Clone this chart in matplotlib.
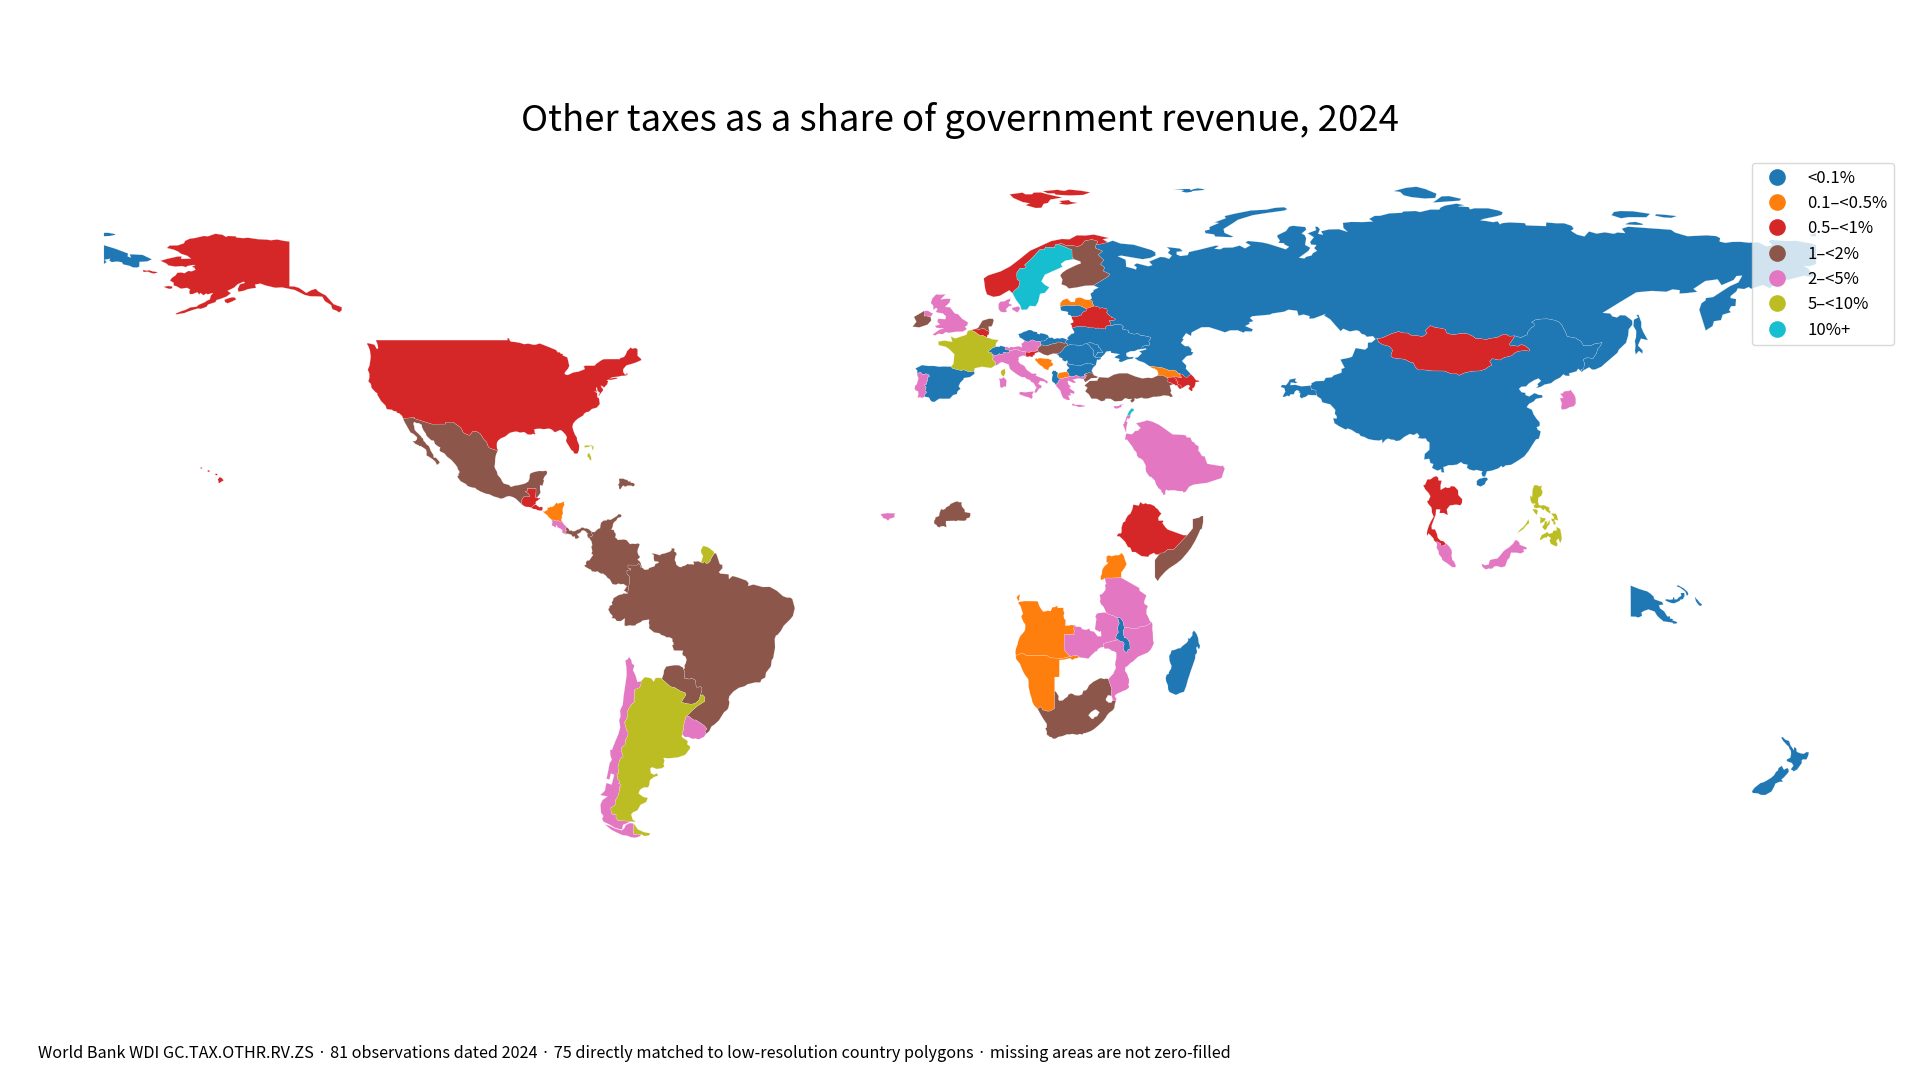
import numpy as np
import matplotlib
matplotlib.use("Agg")
import matplotlib.pyplot as plt
from matplotlib.lines import Line2D

plt.rcParams['font.family'] = ['Noto Sans CJK KR', 'DejaVu Sans']

TITLE = "Other taxes as a share of government revenue, 2024"
FOOTER = ("World Bank WDI GC.TAX.OTHR.RV.ZS · 81 observations dated 2024 · 75 directly matched "
          "to low-resolution country polygons · missing areas are not zero-filled")

BIN_LABELS = ["<0.1%", "0.1–<0.5%", "0.5–<1%", "1–<2%", "2–<5%", "5–<10%", "10%+"]
BIN_COLORS = ["#1f77b4", "#ff7f0e", "#d62728", "#8c564b", "#e377c2", "#bcbd22", "#17becf"]

# country outlines, lon,lat pairs
RUSSIA = [31.1,69.56, 32.13,69.91, 33.78,69.3, 36.51,69.06, 40.29,67.93, 41.06,67.46, 41.13,66.79, 40.02,66.27, 38.38,66.0, 33.92,66.76, 33.18,66.63, 34.81,65.9, 34.88,65.44, 34.94,64.41, 36.23,64.11, 37.01,63.85, 37.14,64.33, 36.54,64.76, 37.18,65.14, 39.59,64.52, 40.44,64.76, 39.76,65.5, 42.09,66.48, 43.02,66.42, 43.95,66.07, 44.53,66.76, 43.7,67.35, 44.19,67.95, 43.45,68.57, 46.25,68.25, 46.82,67.69, 45.56,67.57, 45.56,67.01, 46.35,66.67, 47.89,66.88, 48.14,67.52, 50.23,67.99, 53.72,68.86, 54.47,68.81, 53.49,68.2, 54.73,68.1, 55.44,68.44, 57.32,68.47, 58.8,68.88, 59.94,68.28, 61.08,68.94, 60.03,69.52, 60.55,69.85, 63.5,69.55, 64.89,69.23, 68.51,68.09, 69.18,68.62, 68.16,69.14, 68.14,69.36, 66.93,69.45, 67.26,69.93, 66.72,70.71, 66.69,71.03, 68.54,71.93, 69.2,72.84, 69.94,73.04, 72.59,72.78, 72.8,72.22, 71.85,71.41, 72.47,71.09, 72.79,70.39, 72.56,69.02, 73.67,68.41, 73.24,67.74, 71.28,66.32, 72.42,66.17, 72.82,66.53, 73.92,66.79, 74.19,67.28, 75.05,67.76, 74.47,68.33, 74.94,68.99, 73.84,69.07, 73.6,69.63, 74.4,70.63, 73.1,71.45, 74.89,72.12, 74.66,72.83, 75.16,72.85, 75.68,72.3, 75.29,71.34, 76.36,71.15, 75.9,71.87, 77.58,72.27, 79.65,72.32, 81.5,71.75, 80.61,72.58, 80.51,73.65, 82.25,73.85, 84.66,73.81, 86.82,73.94, 86.01,74.46, 87.17,75.12, 88.32,75.14, 90.26,75.64, 92.9,75.77, 93.23,76.05, 95.86,76.14, 96.68,75.92, 98.92,76.45, 100.76,76.43, 101.04,76.86, 101.99,77.29, 104.35,77.7, 106.07,77.37, 104.7,77.13, 106.97,76.97, 107.24,76.48, 108.15,76.72, 111.08,76.71, 113.33,76.22, 114.13,75.85, 113.89,75.33, 112.78,75.03, 110.15,74.48, 109.4,74.18, 110.64,74.04, 112.12,73.79, 113.02,73.98, 113.53,73.34, 113.97,73.59, 115.57,73.75, 118.78,73.59, 119.02,73.12, 123.2,72.97, 123.26,73.74, 125.38,73.56, 126.98,73.57, 128.59,73.04, 129.05,72.4, 128.46,71.98, 129.72,71.19, 131.29,70.79, 132.25,71.84, 133.86,71.39, 135.56,71.66, 137.5,71.35, 138.23,71.63, 139.87,71.49, 139.15,72.42, 140.47,72.85, 149.5,72.2, 150.35,71.61, 152.97,70.84, 157.01,71.03, 158.998,70.87, 159.83,70.45, 159.71,69.72, 160.94,69.44, 162.28,69.64, 164.05,69.67, 165.94,69.47, 167.84,69.58, 169.58,68.69, 170.82,69.01, 170.01,69.65, 170.45,70.1, 173.64,69.82, 175.72,69.88, 178.6,69.4, 180,68.96, 180,64.98, 178.71,64.53, 177.41,64.61, 178.31,64.08, 178.91,63.25, 179.37,62.98, 179.49,62.57, 179.23,62.3, 177.36,62.52, 174.57,61.77, 173.68,61.65, 172.15,60.95, 170.7,60.34, 170.33,59.88, 168.9,60.57, 166.3,59.79, 165.84,60.16, 164.88,59.73, 163.54,59.87, 163.22,59.21, 162.02,58.24, 162.05,57.84, 163.19,57.62, 163.06,56.16, 162.13,56.12, 161.7,55.29, 162.12,54.86, 160.37,54.34, 160.02,53.2, 158.53,52.96, 158.23,51.94, 156.79,51.01, 155.43,55.38, 155.91,56.77, 156.76,57.36, 156.81,57.83, 158.36,58.06, 161.87,60.34, 163.67,61.14, 164.47,62.55, 163.26,62.47, 162.66,61.64, 160.12,60.54, 159.3,61.77, 156.72,61.43, 154.22,59.76, 155.04,59.14, 152.81,58.88, 151.27,58.78, 151.34,59.5, 149.78,59.66, 148.54,59.16, 145.49,59.34, 142.2,59.04, 138.96,57.09, 135.13,54.73, 136.7,54.6, 137.19,53.98, 138.16,53.76, 138.8,54.25, 139.9,54.19, 141.35,53.09, 141.38,52.24, 140.6,51.24, 140.51,50.05, 140.06,48.45, 138.55,46.999, 138.22,46.31, 136.86,45.14, 135.52,43.99, 134.87,43.4, 133.54,42.81, 132.91,42.8, 132.28,43.28, 130.94,42.55, 130.78,42.22, 130.64,42.39, 130.63,42.9, 131.14,42.93, 131.29,44.11, 131.03,44.97, 131.88,45.32, 133.1,45.14, 133.77,46.12, 134.11,47.21, 134.5,47.58, 135.03,48.48, 133.37,48.18, 132.51,47.79, 131.1,47.79, 130.58,48.73, 129.4,49.44, 127.66,49.76, 127.29,50.74, 126.94,51.35, 126.56,52.12, 125.95,52.79, 125.07,53.16, 123.57,53.46, 122.25,53.43, 121.0,53.25, 120.18,52.75, 120.73,52.52, 120.73,51.96, 120.18,51.64, 119.28,50.58, 119.29,50.14, 117.88,49.51, 116.68,49.89, 115.49,49.81, 114.96,50.14, 114.36,50.25, 112.9,49.54, 111.58,49.38, 110.66,49.13, 109.4,49.29, 108.48,49.28, 107.87,49.79, 106.89,50.27, 105.89,50.41, 104.62,50.28, 103.68,50.09, 102.26,50.51, 102.06,51.26, 100.89,51.52, 99.98,51.63, 98.86,52.05, 97.83,51.01, 98.23,50.42, 97.26,49.73, 95.81,49.98, 94.82,50.01, 94.15,50.48, 93.1,50.5, 92.23,50.8, 90.71,50.33, 88.81,49.47, 87.75,49.3, 87.36,49.21, 86.83,49.83, 85.54,49.69, 85.12,50.12, 84.42,50.31, 83.93,50.89, 83.38,51.07, 81.95,50.81, 80.57,51.39, 80.04,50.86, 77.8,53.4, 76.53,54.18, 76.89,54.49, 74.38,53.55, 73.43,53.49, 73.51,54.04, 72.22,54.38, 71.18,54.13, 70.87,55.17, 69.07,55.39, 68.17,54.97, 65.67,54.6, 65.18,54.35, 61.44,54.01, 60.98,53.66, 61.7,52.98, 60.74,52.72, 60.93,52.45, 59.97,51.96, 61.59,51.27, 61.34,50.8, 59.93,50.84, 59.64,50.55, 58.36,51.06, 56.78,51.04, 55.72,50.62, 54.53,51.03, 52.33,51.72, 50.77,51.69, 48.7,50.61, 48.58,49.87, 47.55,50.45, 46.75,49.36, 47.04,49.15, 46.47,48.39, 47.32,47.72, 48.06,47.74, 48.69,47.08, 48.59,46.56, 49.1,46.4, 48.65,45.81, 47.68,45.64, 46.68,44.61, 47.59,43.66, 47.49,42.99, 48.58,41.81, 47.99,41.41, 47.82,41.15, 47.37,41.22, 46.69,41.83, 46.40,41.86, 45.78,42.09, 45.47,42.5, 44.54,42.71, 43.93,42.55, 43.76,42.74, 42.39,43.22, 40.92,43.38, 40.08,43.55, 39.96,43.43, 38.68,44.28, 37.54,44.66, 36.68,45.24, 37.4,45.4, 38.23,46.24, 37.67,46.64, 39.15,47.04, 39.12,47.26, 38.22,47.1, 38.26,47.55, 38.77,47.83, 39.74,47.9, 39.9,48.23, 39.67,48.78, 40.08,49.31, 40.07,49.6, 38.59,49.93, 38.01,49.92, 37.39,50.38, 36.63,50.23, 35.36,50.58, 35.38,51.04, 34.22,51.26, 34.14,51.57, 34.39,51.77, 33.75,52.34, 32.72,52.24, 32.41,52.29, 32.16,52.06, 31.79,52.1, 31.54,52.74, 31.31,53.07, 31.5,53.17, 32.3,53.13, 32.69,53.35, 32.41,53.62, 31.73,53.79, 31.79,53.97, 31.38,54.16, 30.76,54.81, 30.97,55.08, 30.87,55.55, 29.9,55.79, 29.37,55.67, 29.23,55.92, 28.18,56.17, 27.86,56.76, 27.77,57.24, 27.29,57.47, 27.72,57.79, 27.42,58.72, 28.13,59.3, 27.98,59.48, 29.12,60.03, 28.07,60.5, 30.21,61.78, 31.14,62.36, 31.52,62.87, 30.04,63.55, 30.44,64.2, 29.54,64.95, 30.22,65.81, 29.05,66.94, 29.98,67.7, 28.45,68.36, 28.59,69.06, 29.4,69.16]
RUSSIA_CHUKOTKA = [-180,68.96, -177.55,68.2, -174.93,67.21, -175.01,66.58, -174.34,66.34, -174.57,67.06, -171.86,66.91, -169.9,65.98, -170.89,65.54, -172.53,65.44, -172.56,64.46, -172.96,64.25, -173.89,64.28, -174.65,64.63, -175.98,64.92, -176.21,65.36, -177.22,65.52, -178.36,65.39, -178.9,65.74, -178.69,66.11, -179.88,65.87, -179.43,65.4, -180,64.98]
RUSSIA_WRANGEL_W = [-178.69,70.89, -180,70.83, -180,71.52, -179.87,71.56, -179.02,71.56, -177.58,71.27, -177.66,71.13]
RUSSIA_WRANGEL_E = [180,71.52, 180,70.83, 178.9,70.78, 178.73,71.1]
SAKHALIN = [143.65,50.75, 144.65,48.98, 143.17,49.31, 142.56,47.86, 143.53,46.84, 143.51,46.14, 142.75,46.74, 142.09,45.97, 141.91,46.81, 142.02,47.78, 141.9,48.86, 142.14,49.62, 142.18,50.95, 141.59,51.94, 141.68,53.3, 142.61,53.76, 142.21,54.23, 142.65,54.37, 143.26,52.74, 143.24,51.76]
NOVAYA_ZEMLYA = [68.85,76.54, 68.18,76.23, 64.64,75.74, 61.58,75.26, 58.48,74.31, 56.99,73.33, 55.42,72.37, 55.62,71.54, 57.54,70.72, 56.94,70.63, 53.68,70.76, 53.41,71.21, 51.6,71.47, 51.46,72.01, 52.48,72.23, 52.44,72.77, 54.43,73.63, 53.51,73.75, 55.9,74.63, 55.63,75.08, 57.87,75.61, 61.17,76.25, 64.5,76.44, 66.21,76.81, 68.16,76.94]
SEVERNAYA_A = [105.07,78.31, 99.44,77.92, 101.26,79.23, 102.84,79.28, 105.37,78.71]
SEVERNAYA_B = [99.94,78.88, 97.76,78.76, 94.97,79.04, 93.31,79.43, 92.55,80.14, 91.18,80.34, 93.78,81.02, 95.94,81.25, 97.88,80.75, 100.19,79.78]
FRANZ_JOSEF = [51.14,80.55, 49.79,80.42, 48.89,80.34, 48.75,80.18, 47.59,80.01, 46.5,80.25, 47.07,80.56, 44.85,80.59, 46.8,80.77, 48.32,80.78, 48.52,80.51, 49.1,80.75, 50.04,80.92, 51.52,80.7]
NEW_SIBERIA_A = [138.83,76.14, 141.47,76.09, 145.09,75.56, 144.3,74.82, 140.61,74.85, 138.96,74.61, 136.97,75.26, 137.51,75.95]
NEW_SIBERIA_B = [148.22,75.35, 150.73,75.08, 149.58,74.69, 147.98,74.78, 146.12,75.17, 146.36,75.48]
NEW_SIBERIA_C = [139.86,73.37, 140.81,73.77, 142.06,73.86, 143.48,73.47, 143.6,73.21, 142.09,73.21, 140.04,73.32]

CHINA = [127.66,49.76, 129.40,49.44, 130.58,48.73, 131.10,47.79, 132.51,47.79, 133.37,48.18, 135.03,48.48, 134.5,47.58, 134.11,47.21, 133.77,46.12, 133.1,45.14, 131.88,45.32, 131.03,44.97, 131.29,44.11, 131.14,42.93, 130.63,42.9, 130.64,42.4, 129.99,42.99, 129.6,42.42, 128.05,41.99, 128.21,41.47, 127.34,41.5, 126.87,41.82, 126.18,41.11, 125.08,40.57, 124.27,39.93, 122.87,39.64, 122.13,39.17, 121.05,38.9, 121.59,39.36, 121.38,39.75, 122.17,40.42, 121.64,40.95, 120.77,40.59, 119.64,39.9, 119.02,39.25, 118.04,39.2, 117.53,38.74, 118.06,38.06, 118.88,37.9, 118.91,37.45, 119.7,37.16, 120.82,37.87, 121.71,37.48, 122.36,37.45, 122.52,36.93, 121.1,36.65, 120.64,36.11, 119.66,35.61, 119.15,34.91, 120.23,34.36, 120.62,33.38, 121.23,32.46, 121.91,31.69, 121.89,30.95, 121.26,30.68, 121.5,30.14, 122.09,29.83, 121.94,29.02, 121.68,28.23, 121.13,28.14, 120.4,27.05, 119.59,25.74, 118.66,24.55, 117.28,23.62, 115.89,22.78, 114.76,22.67, 114.15,22.22, 113.81,22.55, 113.24,22.05, 111.84,21.55, 110.78,21.4, 110.44,20.34, 109.89,20.28, 109.63,21.01, 109.86,21.4, 108.52,21.72, 108.05,21.55, 107.04,21.81, 106.57,22.22, 106.73,22.79, 105.81,22.98, 105.33,23.35, 104.48,22.82, 103.5,22.7, 102.71,22.71, 102.17,22.46, 101.65,22.32, 101.8,21.17, 101.27,21.2, 101.18,21.44, 101.15,21.85, 100.42,21.56, 99.98,21.74, 99.24,22.12, 99.53,22.95, 98.9,23.14, 98.66,24.06, 97.6,23.9, 97.72,25.08, 98.67,25.92, 98.71,26.74, 98.68,27.51, 98.25,27.75, 97.91,28.34, 97.33,28.26, 96.25,28.41, 96.59,28.83, 96.12,29.45, 95.4,29.03, 94.57,29.28, 93.41,28.64, 92.5,27.9, 91.7,27.77, 91.26,28.04, 90.73,28.06, 90.02,28.3, 89.48,28.04, 88.81,27.3, 88.73,28.09, 88.12,27.88, 86.95,27.97, 85.82,28.2, 85.01,28.64, 84.23,28.84, 83.9,29.32, 83.34,29.46, 82.33,30.12, 81.53,30.42, 81.11,30.18, 79.72,30.88, 78.74,31.52, 78.46,32.62, 79.18,32.48, 79.21,32.99, 78.81,33.51, 78.91,34.32, 77.84,35.49, 76.19,35.9, 75.9,36.67, 75.16,37.13, 74.98,37.42, 74.83,37.99, 74.86,38.38, 74.26,38.61, 73.93,38.51, 73.68,39.43, 73.96,39.66, 73.82,39.89, 74.78,40.37, 76.53,40.43, 76.9,41.07, 78.19,41.19, 78.54,41.58, 80.12,42.12, 80.26,42.35, 80.18,42.92, 80.87,43.18, 79.97,44.92, 81.95,45.32, 82.46,45.54, 83.18,47.33, 85.16,47.0, 85.72,47.45, 85.77,48.46, 86.6,48.55, 87.36,49.21, 87.75,49.3, 88.01,48.6, 88.85,48.07, 90.28,47.69, 90.97,46.89, 90.59,45.72, 90.95,45.29, 92.13,45.12, 93.48,44.98, 94.69,44.35, 95.31,44.24, 95.76,43.32, 96.35,42.73, 97.45,42.75, 99.52,42.52, 101.83,42.51, 103.31,41.91, 104.52,41.91, 104.96,41.6, 106.13,42.13, 107.74,42.48, 109.24,42.52, 110.41,42.87, 111.13,43.41, 111.83,43.74, 111.67,44.07, 111.35,44.46, 111.87,45.1, 112.44,45.01, 113.46,44.81, 114.46,45.34, 115.99,45.73, 116.72,46.39, 117.42,46.67, 118.87,46.81, 119.66,46.69, 119.77,47.05, 118.87,47.75, 118.06,48.07, 117.3,47.7, 116.31,47.85, 115.74,47.73, 115.49,48.14, 116.19,49.13, 116.68,49.89, 117.88,49.51, 119.29,50.14, 119.28,50.58, 120.18,51.64, 120.73,51.96, 120.73,52.52, 120.18,52.75, 121.0,53.25, 122.25,53.43, 123.57,53.46, 125.07,53.16, 125.95,52.79, 126.56,52.12, 126.94,51.35, 127.29,50.74]
HAINAN = [110.34,18.68, 109.48,18.2, 108.66,18.51, 108.63,19.37, 109.12,19.82, 110.21,20.10, 110.79,20.08, 111.01,19.70, 110.57,19.26]
MONGOLIA = [87.75,49.3, 88.81,49.47, 90.71,50.33, 92.23,50.8, 93.1,50.5, 94.15,50.48, 94.82,50.01, 95.81,49.98, 97.26,49.73, 98.23,50.42, 97.83,51.01, 98.86,52.05, 99.98,51.63, 100.89,51.52, 102.07,51.26, 102.26,50.51, 103.68,50.09, 104.62,50.28, 105.89,50.41, 106.89,50.27, 107.87,49.79, 108.48,49.28, 109.4,49.29, 110.66,49.13, 111.58,49.38, 112.9,49.54, 114.36,50.25, 114.96,50.14, 115.49,49.81, 116.68,49.89, 116.19,49.13, 115.49,48.14, 115.74,47.73, 116.31,47.85, 117.3,47.7, 118.06,48.07, 118.87,47.75, 119.77,47.05, 119.66,46.69, 118.87,46.81, 117.42,46.67, 116.72,46.39, 115.99,45.73, 114.46,45.34, 113.46,44.81, 112.44,45.01, 111.87,45.1, 111.35,44.46, 111.67,44.07, 111.83,43.74, 111.13,43.41, 110.41,42.87, 109.24,42.52, 107.74,42.48, 106.13,42.13, 104.96,41.6, 104.52,41.91, 103.31,41.91, 101.83,42.51, 99.52,42.52, 97.45,42.75, 96.35,42.73, 95.76,43.32, 95.31,44.24, 94.69,44.35, 93.48,44.98, 92.13,45.12, 90.95,45.29, 90.59,45.72, 90.97,46.89, 90.28,47.69, 88.85,48.07, 88.01,48.6]
TAJIKISTAN = [67.83,37.14, 68.39,38.16, 68.18,38.9, 67.44,39.14, 67.7,39.58, 68.54,39.53, 69.01,40.09, 69.33,40.73, 70.67,40.96, 70.46,40.5, 70.6,40.22, 71.01,40.24, 70.65,39.94, 69.56,40.1, 69.46,39.53, 70.55,39.6, 71.78,39.28, 73.68,39.43, 73.93,38.51, 74.26,38.61, 74.86,38.38, 74.83,37.99, 74.98,37.42, 73.95,37.42, 73.26,37.5, 72.64,37.05, 72.19,36.95, 71.84,36.74, 71.45,37.07, 71.54,37.91, 71.24,37.95, 71.35,38.26, 70.81,38.49, 70.38,38.14, 70.27,37.74, 70.12,37.59, 69.52,37.61, 69.2,37.15, 68.86,37.34, 68.14,37.02]
SOUTH_KOREA = [128.35,38.61, 129.21,37.43, 129.46,36.78, 129.47,35.63, 129.09,35.08, 128.19,34.89, 127.39,34.48, 126.49,34.39, 126.37,34.93, 126.56,35.68, 126.12,36.73, 126.86,36.89, 126.17,37.75, 126.68,37.8, 127.07,38.26, 127.78,38.3, 128.21,38.37]
THAILAND = [102.58,12.19, 101.69,12.65, 100.83,12.63, 100.98,13.41, 100.1,13.41, 100.02,12.31, 99.48,10.85, 99.15,9.96, 99.22,9.24, 99.87,9.21, 100.28,8.3, 100.46,7.43, 101.02,6.86, 101.62,6.74, 102.14,6.22, 101.81,5.81, 101.15,5.69, 101.08,6.2, 100.26,6.64, 100.09,6.46, 99.69,6.85, 99.52,7.34, 98.99,7.91, 98.5,8.38, 98.34,7.79, 98.15,8.35, 98.26,8.97, 98.55,9.93, 99.04,10.96, 99.59,11.89, 99.2,12.8, 99.21,13.27, 99.1,13.83, 98.43,14.62, 98.19,15.12, 98.54,15.31, 98.9,16.18, 98.54,16.84, 97.86,17.57, 97.38,18.45, 97.8,18.63, 98.25,19.71, 98.96,19.75, 99.54,20.19, 100.12,20.42, 100.55,20.11, 100.61,19.51, 101.28,19.46, 101.04,18.41, 101.06,17.51, 102.11,18.11, 102.41,17.93, 102.99,17.96, 103.2,18.31, 103.96,18.24, 104.72,17.43, 104.78,16.44, 105.59,15.57, 105.54,14.72, 105.22,14.27, 104.28,14.42, 102.99,14.23, 102.35,13.39]
MALAYSIA_WEST = [101.08,6.2, 101.15,5.69, 101.81,5.81, 102.14,6.22, 102.37,6.13, 102.96,5.52, 103.38,4.86, 103.44,4.18, 103.33,3.73, 103.43,3.38, 103.5,2.79, 103.85,2.52, 104.25,1.63, 104.23,1.29, 103.52,1.23, 102.57,1.97, 101.39,2.76, 101.27,3.27, 100.7,3.94, 100.56,4.77, 100.2,5.31, 100.31,6.04, 100.09,6.46, 100.26,6.64]
MALAYSIA_EAST = [117.88,4.14, 117.02,4.31, 115.87,4.31, 115.52,3.17, 115.13,2.82, 114.62,1.43, 113.81,1.22, 112.86,1.5, 112.38,1.41, 111.8,0.9, 111.16,0.98, 110.51,0.77, 109.83,1.34, 109.66,2, 110.4,1.66, 111.17,1.85, 111.37,2.7, 111.8,2.89, 113,3.1, 113.71,3.89, 114.2,4.53, 114.6,4.9, 115.45,5.45, 116.22,6.14, 116.73,6.92, 117.13,6.93, 117.64,6.42, 117.69,5.99, 118.35,5.71, 119.18,5.41, 119.11,5.02, 118.44,4.97, 118.62,4.48]
MINDANAO = [126.38,8.41, 126.48,7.75, 126.54,7.19, 126.2,6.27, 125.83,7.29, 125.36,6.79, 125.68,6.05, 125.4,5.58, 124.22,6.16, 123.94,6.89, 124.24,7.36, 123.61,7.83, 123.3,7.42, 122.83,7.46, 122.09,6.9, 121.92,7.19, 122.31,8.03, 122.94,8.32, 123.49,8.69, 123.84,8.24, 124.6,8.51, 124.76,8.96, 125.47,8.99, 125.41,9.76, 126.22,9.29, 126.31,8.78]
SAMAR_LEYTE = [125.5,12.16, 125.78,11.05, 125.01,11.31, 125.03,10.98, 125.28,10.36, 124.8,10.13, 124.76,10.84, 124.46,10.89, 124.3,11.5, 124.89,11.42, 124.88,11.79, 124.27,12.56, 125.23,12.54]
NEGROS = [123.98,10.28, 123.62,9.95, 123.31,9.32, 122.995,9.02, 122.38,9.71, 122.59,9.98, 122.84,10.26, 122.95,10.88, 123.5,10.94, 123.34,10.27, 124.08,11.23]
PANAY = [121.88,11.89, 122.48,11.58, 123.12,11.58, 123.1,11.17, 122.64,10.74, 122,10.44, 121.97,10.91, 122.04,11.42]
MINDORO = [120.32,13.47, 121.18,13.43, 121.53,13.07, 121.26,12.21, 120.83,12.7]
PALAWAN = [119.51,11.37, 119.69,10.55, 119.03,10, 118.5,9.32, 117.17,8.37, 117.66,9.07, 118.39,9.68, 118.99,10.38]
LUZON = [121.32,18.5, 121.94,18.22, 122.25,18.48, 122.34,18.22, 122.17,17.81, 122.52,17.09, 122.25,16.26, 121.66,15.93, 121.51,15.12, 121.73,14.33, 122.26,14.22, 122.7,14.34, 123.95,13.78, 123.86,13.24, 124.18,13, 124.08,12.54, 123.3,13.03, 122.93,13.55, 122.67,13.19, 122.03,13.78, 121.13,13.64, 120.63,13.86, 120.68,14.27, 120.99,14.53, 120.69,14.76, 120.56,14.4, 120.07,14.97, 119.92,15.41, 119.88,16.36, 120.29,16.03, 120.39,17.6, 120.72,18.51]
PNG_MAIN = [141,-2.6, 142.74,-3.29, 144.58,-3.86, 145.27,-4.37, 145.83,-4.88, 145.98,-5.47, 147.65,-6.08, 147.89,-6.61, 146.97,-6.72, 147.19,-7.39, 148.08,-8.04, 148.73,-9.1, 149.31,-9.07, 149.27,-9.51, 150.04,-9.68, 149.74,-9.87, 150.8,-10.29, 150.69,-10.58, 150.03,-10.65, 149.78,-10.39, 147.91,-10.13, 147.14,-9.49, 146.57,-8.94, 146.05,-8.07, 144.74,-7.63, 143.9,-7.92, 143.29,-8.25, 143.41,-8.98, 142.63,-9.33, 142.07,-9.16, 141.03,-9.12, 141.02,-5.86]
PNG_BRITAIN = [152.24,-4.15, 152.34,-4.31, 152.32,-4.87, 151.98,-5.48, 151.46,-5.56, 151.3,-5.84, 150.75,-6.08, 150.24,-6.32, 149.71,-6.32, 148.89,-6.03, 148.32,-5.75, 148.4,-5.44, 149.3,-5.58, 149.85,-5.51, 149.99,-5.03, 150.14,-5, 150.24,-5.53, 150.81,-5.46, 151.09,-5.11, 151.65,-4.76, 151.54,-4.17, 152.14,-4.15]
PNG_IRELAND = [150.94,-2.5, 150.66,-2.74, 151.38,-3.04, 152.41,-3.79, 152.64,-4.18, 152.83,-4.77, 153.14,-4.5, 153.02,-3.98, 152.24,-3.24]
PNG_BOUGAINVILLE = [155.88,-6.82, 155.6,-6.92, 155.17,-6.54, 154.73,-5.9, 154.51,-5.14, 154.65,-5.04, 154.76,-5.34, 155.06,-5.57, 155.55,-6.2, 156.02,-6.54]
NZ_SOUTH = [173.02,-40.92, 173.25,-41.33, 173.96,-40.93, 174.25,-41.35, 174.25,-41.77, 173.88,-42.23, 173.22,-42.97, 172.71,-43.37, 173.08,-43.85, 172.31,-43.87, 171.45,-44.24, 171.19,-44.9, 170.62,-45.91, 169.83,-46.36, 169.33,-46.64, 168.41,-46.62, 167.76,-46.29, 166.68,-46.22, 166.51,-45.85, 167.05,-45.11, 168.3,-44.12, 168.95,-43.94, 169.67,-43.56, 170.52,-43.03, 171.13,-42.51, 171.57,-41.77, 171.95,-41.51, 172.1,-40.96, 172.8,-40.49]
NZ_NORTH = [174.61,-36.16, 175.34,-37.21, 175.36,-36.53, 175.81,-36.8, 175.96,-37.56, 176.76,-37.88, 177.44,-37.96, 178.01,-37.58, 178.52,-37.69, 178.27,-38.58, 177.97,-39.17, 177.21,-39.15, 176.94,-39.45, 177.03,-39.88, 176.89,-40.07, 176.51,-40.6, 176.01,-41.29, 175.24,-41.69, 175.07,-41.43, 174.65,-41.28, 175.23,-40.46, 174.9,-39.91, 173.82,-39.51, 173.85,-39.15, 174.57,-38.8, 174.74,-38.03, 174.7,-37.38, 174.29,-36.71, 174.32,-36.53, 173.84,-36.12, 173.05,-35.24, 172.64,-34.53, 173.01,-34.45, 173.55,-35.01, 174.33,-35.27]

USA_MAIN = [-94.82,49.39, -94.64,48.84, -94.33,48.67, -93.63,48.61, -92.61,48.45, -91.64,48.14, -90.83,48.27, -89.6,48.01, -89.27,48.02, -88.38,48.3, -87.44,47.94, -86.46,47.55, -84.88,46.9, -84.78,46.64, -84.54,46.54, -84.6,46.44, -84.34,46.41, -84.14,46.51, -84.09,46.28, -83.89,46.12, -83.62,46.12, -83.47,45.99, -83.59,45.82, -82.55,45.35, -82.34,44.44, -82.14,43.57, -82.43,42.98, -82.9,42.43, -83.12,42.08, -83.14,41.98, -83.03,41.83, -82.69,41.68, -82.44,41.68, -81.28,42.21, -80.25,42.37, -78.94,42.86, -78.92,42.97, -79.01,43.27, -79.17,43.47, -78.72,43.63, -77.74,43.63, -76.82,43.63, -76.5,44.02, -76.38,44.1, -75.32,44.82, -74.87,45.0, -73.35,45.01, -71.51,45.01, -71.41,45.26, -71.08,45.31, -70.66,45.46, -70.31,45.92, -70.0,46.69, -69.24,47.45, -68.91,47.19, -68.23,47.35, -67.79,47.07, -67.79,45.7, -67.14,45.14, -66.96,44.81, -68.03,44.33, -69.06,43.98, -70.12,43.68, -70.65,43.09, -70.81,42.87, -70.83,42.34, -70.5,41.81, -70.08,41.78, -70.19,42.15, -69.88,41.92, -69.97,41.64, -70.64,41.48, -71.12,41.49, -71.86,41.32, -72.3,41.27, -72.88,41.22, -73.71,40.93, -72.24,41.12, -71.95,40.93, -73.35,40.63, -73.98,40.63, -73.95,40.75, -74.26,40.47, -73.96,40.43, -74.18,39.71, -74.91,38.94, -74.98,39.2, -75.2,39.25, -75.53,39.5, -75.32,38.96, -75.07,38.78, -75.06,38.4, -75.38,38.02, -75.94,37.22, -76.03,37.26, -75.72,37.94, -76.23,38.32, -76.35,39.15, -76.54,38.72, -76.33,38.08, -76.96,38.23, -76.3,37.92, -76.26,36.97, -75.97,36.9, -75.87,36.55, -75.73,35.55, -76.36,34.81, -77.4,34.51, -78.05,33.93, -78.55,33.86, -79.06,33.49, -79.2,33.16, -80.3,32.51, -80.86,32.03, -81.34,31.44, -81.49,30.73, -81.31,30.04, -80.98,29.18, -80.54,28.47, -80.53,28.04, -80.06,26.88, -80.09,26.21, -80.13,25.82, -80.38,25.21, -80.68,25.08, -81.17,25.2, -81.33,25.64, -81.71,25.87, -82.24,26.73, -82.71,27.5, -82.86,27.89, -82.65,28.55, -82.93,29.1, -83.71,29.94, -84.1,30.09, -85.11,29.64, -85.29,29.69, -85.77,30.15, -86.4,30.4, -87.53,30.27, -88.42,30.38, -89.18,30.32, -89.59,30.16, -89.41,29.89, -89.43,29.49, -89.22,29.29, -89.41,29.16, -89.78,29.31, -90.15,29.12, -90.88,29.15, -91.63,29.68, -92.5,29.55, -93.23,29.78, -93.85,29.71, -94.69,29.48, -95.6,28.74, -96.59,28.31, -97.14,27.83, -97.37,27.38, -97.38,26.69, -97.33,26.21, -97.14,25.87, -97.53,25.84, -98.24,26.06, -99.02,26.37, -99.3,26.84, -99.52,27.54, -100.11,28.11, -100.46,28.7, -100.96,29.38, -101.66,29.78, -102.48,29.76, -103.11,28.97, -103.94,29.27, -104.46,29.57, -104.71,30.12, -105.04,30.64, -105.63,31.08, -106.14,31.4, -106.51,31.75, -108.24,31.75, -108.24,31.34, -109.04,31.34, -111.02,31.33, -113.3,32.04, -114.82,32.53, -114.72,32.72, -115.99,32.61, -117.13,32.54, -117.3,33.05, -117.94,33.62, -118.41,33.74, -118.52,34.03, -119.08,34.08, -119.44,34.35, -120.37,34.45, -120.62,34.61, -120.74,35.16, -121.71,36.16, -122.55,37.55, -122.51,37.78, -122.95,38.11, -123.73,38.95, -123.87,39.77, -124.4,40.31, -124.18,41.14, -124.21,42.0, -124.53,42.77, -124.14,43.71, -124.02,44.62, -123.9,45.52, -124.08,46.86, -124.4,47.72, -124.69,48.18, -124.57,48.38, -123.12,48.04, -122.59,47.1, -122.34,47.36, -122.5,48.18, -122.84,49.0, -120,49, -117.03,49, -116.05,49, -113,49, -110.05,49, -107.05,49, -104.05,49, -100.65,49, -97.23,49, -95.16,49, -95.16,49.38]
ALASKA = [-155.07,71.15, -154.34,70.7, -153.9,70.89, -152.21,70.83, -152.27,70.6, -150.74,70.43, -149.72,70.53, -147.61,70.21, -145.69,70.12, -144.92,69.99, -143.59,70.15, -142.07,69.85, -140.99,69.71, -140.99,66, -140.99,60.31, -140.01,60.28, -139.04,60, -138.34,59.56, -137.45,58.91, -136.48,59.46, -135.48,59.79, -134.95,59.27, -134.27,58.86, -133.36,58.41, -132.73,57.69, -131.71,56.55, -130.0,55.92, -129.98,55.28, -130.54,54.8, -131.09,55.18, -131.97,55.5, -132.25,56.37, -133.54,57.18, -134.08,58.12, -135.04,58.19, -136.63,58.21, -137.8,58.5, -139.87,59.54, -142.57,60.08, -143.96,60, -145.93,60.46, -147.11,60.88, -148.22,60.67, -148.02,59.98, -148.57,59.91, -149.73,59.71, -150.61,59.37, -151.72,59.16, -151.86,59.74, -151.41,60.73, -150.35,61.03, -150.62,61.28, -151.9,60.73, -152.58,60.06, -154.02,59.35, -153.29,58.86, -154.23,58.15, -155.31,57.73, -156.31,57.42, -156.56,56.98, -158.12,56.46, -158.43,55.99, -159.6,55.57, -160.29,55.64, -161.22,55.36, -162.24,55.02, -163.07,54.69, -164.79,54.4, -164.94,54.57, -163.85,55.04, -162.87,55.35, -161.8,55.89, -160.56,56.01, -160.07,56.42, -158.68,57.02, -158.46,57.22, -157.72,57.57, -157.55,58.33, -157.04,58.92, -158.19,58.62, -158.52,58.79, -159.06,58.42, -159.71,58.93, -159.98,58.57, -160.36,59.07, -161.36,58.67, -161.97,58.67, -162.05,59.27, -161.87,59.63, -162.52,59.99, -163.82,59.8, -164.66,60.27, -165.35,60.51, -165.35,61.07, -166.12,61.5, -165.73,62.07, -164.92,62.63, -164.56,63.15, -163.75,63.22, -163.07,63.06, -162.26,63.54, -161.53,63.46, -160.77,63.77, -160.96,64.22, -161.52,64.4, -160.78,64.79, -161.39,64.78, -162.45,64.56, -162.76,64.34, -163.55,64.56, -164.96,64.45, -166.43,64.69, -166.85,65.09, -168.11,65.67, -166.7,66.09, -164.47,66.58, -163.65,66.58, -163.79,66.08, -161.68,66.12, -162.49,66.74, -163.72,67.12, -164.43,67.62, -165.39,68.04, -166.76,68.36, -166.2,68.88, -164.43,68.92, -163.17,69.37, -162.93,69.86, -161.91,70.33, -160.93,70.45, -159.04,70.89, -158.12,70.82, -156.58,71.36]
ST_LAWRENCE = [-171.73,63.78, -171.11,63.59, -170.49,63.69, -169.68,63.43, -168.69,63.3, -168.77,63.19, -169.53,62.98, -170.29,63.19, -170.67,63.38, -171.55,63.32, -171.79,63.41]
NUNIVAK = [-167.46,60.21, -166.47,60.38, -165.67,60.29, -165.58,59.91, -166.19,59.75, -166.85,59.94]
KODIAK = [-152.57,58, -152.14,57.59, -153.01,57.12, -154.01,56.73, -154.52,56.99, -154.67,57.46, -153.76,57.82, -153.23,57.97]
HAWAII = [-155.54,19.08, -155.69,18.92, -155.94,19.06, -155.91,19.34, -156.07,19.7, -155.84,19.98, -155.65,20.22, -155.2,19.99, -154.81,19.51]
MAUI = [-156.07,20.64, -156.41,20.57, -156.7,20.86, -156.26,20.92]
OAHU = [-157.65,21.32, -158.13,21.31, -158.25,21.54, -158.0,21.7]
KAUAI = [-159.37,21.97, -159.8,22.07, -159.6,22.24, -159.34,22.2]

MEXICO = [-97.14,25.87, -97.53,24.99, -97.7,24.27, -97.78,22.93, -97.87,22.44, -97.7,21.9, -97.39,21.41, -97.19,20.64, -96.53,19.89, -96.29,19.32, -95.9,18.83, -94.84,18.56, -94.43,18.14, -93.55,18.42, -92.79,18.52, -92.04,18.7, -91.41,18.88, -90.77,19.28, -90.53,19.87, -90.45,20.71, -90.28,21, -89.6,21.26, -88.54,21.49, -87.66,21.46, -87.05,21.54, -86.81,21.33, -86.85,20.85, -87.38,20.26, -87.62,19.65, -87.44,19.47, -87.59,19.04, -87.84,18.26, -88.09,18.52, -88.3,18.5, -88.3,17.6, -88.2,16.9, -88.9,15.9, -89.23,15.89, -89.15,17.02, -89.14,17.81, -91,17.82, -91.0,17.25, -91.45,17.25, -91.08,16.92, -90.71,16.69, -90.6,16.47, -90.44,16.41, -90.46,16.07, -91.75,16.07, -92.23,15.25, -92.09,15.06, -92.2,14.83, -92.23,14.54, -93.36,15.62, -93.88,15.94, -94.69,16.2, -95.25,16.13, -96.05,15.75, -96.56,15.65, -97.26,15.92, -98.01,16.11, -98.95,16.57, -99.7,16.71, -100.83,17.17, -101.67,17.65, -101.92,17.92, -102.48,17.98, -103.5,18.29, -103.92,18.75, -104.99,19.32, -105.49,19.95, -105.73,20.43, -105.4,20.53, -105.5,20.82, -105.27,21.08, -105.27,21.42, -105.6,21.87, -105.69,22.27, -106.03,22.77, -106.91,23.77, -107.92,24.55, -108.4,25.17, -109.26,25.58, -109.44,25.82, -109.29,26.44, -109.8,26.68, -110.39,27.16, -110.64,27.86, -111.18,27.94, -111.76,28.47, -112.23,28.95, -112.27,29.27, -112.81,30.02, -113.16,30.79, -113.15,31.17, -113.87,31.57, -114.21,31.52, -114.78,31.8, -114.94,31.39, -114.77,30.91, -114.67,30.16, -114.33,29.75, -113.59,29.06, -113.42,28.83, -113.27,28.75, -113.14,28.41, -112.96,28.43, -112.76,27.78, -112.46,27.53, -112.24,27.17, -111.62,26.66, -111.28,25.73, -110.99,25.29, -110.71,24.83, -110.66,24.3, -110.17,24.27, -109.77,23.81, -109.41,23.36, -109.43,23.19, -109.85,22.82, -110.03,22.82, -110.3,23.43, -110.95,24, -111.67,24.48, -112.18,24.74, -112.15,25.47, -112.3,26.01, -113.46,26.77, -113.6,26.64, -113.85,26.9, -114.47,27.14, -115.06,27.72, -114.98,27.8, -114.57,27.74, -114.2,28.12, -114.16,28.57, -114.93,29.28, -115.52,29.56, -115.89,30.18, -116.26,30.84, -116.72,31.64, -117.13,32.53, -115.99,32.61, -114.72,32.72, -114.82,32.53, -113.3,32.04, -111.02,31.33, -109.04,31.34, -108.24,31.34, -108.24,31.75, -106.51,31.75, -106.14,31.4, -105.63,31.08, -105.04,30.64, -104.71,30.12, -104.46,29.57, -103.94,29.27, -103.11,28.97, -102.48,29.76, -101.66,29.78, -100.96,29.38, -100.46,28.7, -100.11,28.11, -99.52,27.54, -99.3,26.84, -99.02,26.37, -98.24,26.06, -97.53,25.84]
GUATEMALA = [-90.1,13.74, -90.61,13.91, -91.23,13.93, -91.69,14.13, -92.23,14.54, -92.2,14.83, -92.09,15.06, -92.23,15.25, -91.75,16.07, -90.46,16.07, -90.44,16.41, -90.6,16.47, -90.71,16.69, -91.08,16.92, -91.45,17.25, -91.0,17.25, -91.0,17.82, -89.14,17.81, -89.15,17.02, -89.23,15.89, -88.93,15.89, -88.6,15.71, -88.52,15.86, -88.23,15.73, -88.68,15.35, -89.15,15.07, -89.23,14.87, -89.15,14.68, -89.35,14.42, -89.59,14.36, -89.53,14.24, -89.72,14.13, -90.06,13.88]
EL_SALVADOR = [-89.35,14.42, -89.06,14.34, -88.84,14.14, -88.54,13.98, -88.5,13.85, -88.07,13.96, -87.86,13.89, -87.72,13.79, -87.79,13.38, -87.9,13.15, -88.48,13.16, -88.84,13.26, -89.26,13.46, -89.81,13.52, -90.1,13.74, -90.06,13.88, -89.72,14.13, -89.53,14.24, -89.59,14.36]
NICARAGUA = [-85.71,11.09, -86.06,11.4, -86.53,11.81, -86.75,12.14, -87.17,12.46, -87.67,12.91, -87.56,13.06, -87.39,12.91, -87.32,12.98, -86.88,13.25, -86.73,13.26, -86.76,13.75, -86.52,13.78, -86.31,13.77, -86.1,14.04, -85.8,13.84, -85.7,13.96, -85.51,14.08, -85.17,14.35, -85.15,14.56, -85.05,14.55, -84.92,14.79, -84.82,14.82, -84.65,14.67, -84.45,14.62, -84.23,14.75, -83.98,14.75, -83.63,14.88, -83.49,15.02, -83.15,15, -83.23,14.9, -83.28,14.68, -83.18,14.31, -83.41,13.97, -83.52,13.57, -83.55,13.13, -83.5,12.87, -83.47,12.42, -83.63,12.32, -83.72,11.89, -83.65,11.63, -83.86,11.37, -83.81,11.1, -83.66,10.94, -83.9,10.73, -84.19,10.79, -84.36,11, -84.67,11.08, -84.9,10.95, -85.56,11.22]
COSTA_RICA = [-82.55,9.57, -82.93,9.47, -82.93,9.07, -82.72,8.93, -82.87,8.81, -82.83,8.63, -82.91,8.42, -82.97,8.23, -83.51,8.45, -83.71,8.66, -83.6,8.83, -83.63,9.05, -83.91,9.29, -84.3,9.49, -84.65,9.62, -84.71,9.91, -84.98,10.09, -84.91,9.8, -85.11,9.56, -85.34,9.83, -85.66,9.93, -85.8,10.13, -85.79,10.44, -85.66,10.75, -85.94,10.9, -85.71,11.09, -85.56,11.22, -84.9,10.95, -84.67,11.08, -84.36,11, -84.19,10.79, -83.9,10.73, -83.66,10.94, -83.4,10.4]
PANAMA = [-77.35,8.67, -77.47,8.52, -77.24,7.94, -77.43,7.64, -77.75,7.71, -77.88,7.22, -78.21,7.51, -78.43,8.05, -78.18,8.32, -78.44,8.39, -78.62,8.72, -79.12,8.996, -79.56,8.93, -79.76,8.58, -80.16,8.33, -80.38,8.3, -80.48,8.09, -80.0,7.55, -80.28,7.42, -80.42,7.27, -80.89,7.22, -81.06,7.82, -81.19,7.65, -81.52,7.71, -81.72,8.11, -82.13,8.18, -82.39,8.29, -82.82,8.29, -82.85,8.07, -82.97,8.23, -82.91,8.42, -82.83,8.63, -82.87,8.81, -82.72,8.93, -82.93,9.07, -82.93,9.47, -82.55,9.57, -82.19,9.21, -82.21,8.995, -81.81,8.95, -81.71,9.03, -81.44,8.79, -80.95,8.86, -80.52,9.11, -79.91,9.31, -79.57,9.61, -79.02,9.55, -79.06,9.45, -78.5,9.42, -78.06,9.25, -77.73,8.95]
DOMINICAN_REP = [-71.71,18.04, -71.69,18.32, -71.95,18.62, -71.7,18.79, -71.62,19.17, -71.71,19.71, -71.59,19.88, -70.81,19.88, -70.21,19.62, -69.95,19.65, -69.77,19.29, -69.22,19.31, -69.25,19.02, -68.69,18.98, -68.32,18.61, -68.69,18.21, -69.16,18.42, -69.62,18.38, -69.95,18.43, -70.13,18.25, -70.52,18.18, -70.67,18.43, -71,18.28, -71.4,17.6, -71.66,17.76]
BAHAMAS_ANDROS = [-77.53,23.76, -77.78,23.71, -78.03,24.29, -78.41,24.58, -78.19,25.21, -77.89,25.17, -77.54,24.34]
BAHAMAS_GRAND = [-77.82,26.58, -78.91,26.42, -78.98,26.79, -78.51,26.87, -77.85,26.84]
BAHAMAS_ABACO = [-77,26.59, -77.17,25.88, -77.36,26.01, -77.34,26.53, -77.79,26.93, -77.79,27.04]

COLOMBIA = [-75.37,-0.15, -75.8,0.08, -76.29,0.42, -76.58,0.26, -77.42,0.4, -77.67,0.83, -77.86,0.81, -78.86,1.38, -79,1.69, -78.62,1.77, -78.66,2.27, -78.43,2.63, -77.93,2.7, -77.51,3.33, -77.13,3.85, -77.5,4.09, -77.31,4.67, -77.53,5.58, -77.32,5.85, -77.48,6.69, -77.88,7.22, -77.75,7.71, -77.43,7.64, -77.24,7.94, -77.47,8.52, -77.35,8.67, -76.84,8.64, -76.09,9.34, -75.67,9.44, -75.66,9.77, -75.48,10.62, -74.91,11.08, -74.28,11.1, -74.2,11.31, -73.41,11.23, -72.63,11.73, -72.24,11.96, -71.75,12.44, -71.4,12.38, -71.14,12.11, -71.33,11.78, -71.97,11.61, -72.23,11.11, -72.61,10.82, -72.91,10.45, -73.03,9.74, -73.3,9.15, -72.79,9.09, -72.66,8.63, -72.44,8.41, -72.36,8, -72.48,7.63, -72.44,7.42, -72.2,7.34, -71.96,6.99, -70.67,7.09, -70.09,6.96, -69.39,6.1, -68.99,6.21, -68.27,6.15, -67.7,6.27, -67.34,6.1, -67.52,5.56, -67.74,5, -67.82,4.5, -67.62,3.84, -67.34,3.54, -67.3,3.32, -67.81,2.82, -67.45,2.6, -67.18,2.25, -66.88,1.25, -67.07,1.13, -67.26,1.72, -67.54,2.04, -67.87,1.69, -69.82,1.71, -69.8,1.09, -69.22,0.99, -69.25,0.6, -69.45,0.71, -70.02,0.54, -70.02,-0.19, -69.58,-0.55, -69.42,-1.12, -69.44,-1.56, -69.89,-4.3, -70.39,-3.77, -70.69,-3.74, -70.05,-2.73, -70.81,-2.26, -71.41,-2.34, -71.77,-2.17, -72.33,-2.43, -73.07,-2.31, -73.66,-1.26, -74.12,-1, -74.44,-0.53, -75.11,-0.06]
BRAZIL = [-57.63,-30.22, -56.29,-28.85, -55.16,-27.88, -54.49,-27.47, -53.65,-26.92, -53.63,-26.12, -54.13,-25.55, -54.63,-25.74, -54.43,-25.16, -54.29,-24.57, -54.29,-24.02, -54.65,-23.84, -55.03,-24, -55.4,-23.96, -55.52,-23.57, -55.61,-22.66, -55.8,-22.36, -56.47,-22.09, -56.88,-22.28, -57.94,-22.09, -57.87,-20.73, -58.17,-20.18, -57.85,-19.97, -57.95,-19.4, -57.68,-18.96, -57.5,-18.17, -57.73,-17.55, -58.28,-17.27, -58.39,-16.88, -58.24,-16.3, -60.16,-16.26, -60.54,-15.09, -60.25,-15.08, -60.26,-14.65, -60.46,-14.35, -60.5,-13.78, -61.08,-13.48, -61.71,-13.49, -62.13,-13.2, -62.8,-13, -63.2,-12.63, -64.32,-12.46, -65.4,-11.57, -65.32,-10.9, -65.44,-10.51, -65.34,-9.76, -66.65,-9.93, -67.17,-10.31, -68.05,-10.71, -68.27,-11.01, -68.79,-11.04, -69.53,-10.95, -70.09,-11.12, -70.55,-11.01, -70.48,-9.49, -71.3,-10.08, -72.18,-10.05, -72.56,-9.52, -73.23,-9.46, -73.02,-9, -73.57,-8.42, -73.99,-7.52, -73.72,-7.34, -73.72,-6.92, -73.12,-6.63, -73.22,-6.09, -72.96,-5.74, -72.89,-5.27, -71.75,-4.59, -70.93,-4.4, -70.79,-4.25, -69.89,-4.3, -69.44,-1.56, -69.42,-1.12, -69.58,-0.55, -70.02,-0.19, -70.02,0.54, -69.45,0.71, -69.25,0.6, -69.22,0.99, -69.8,1.09, -69.82,1.71, -67.87,1.69, -67.54,2.04, -67.26,1.72, -67.07,1.13, -66.88,1.25, -66.33,0.72, -65.55,0.79, -65.35,1.1, -64.61,1.33, -64.2,1.49, -64.08,1.92, -63.37,2.2, -63.42,2.41, -64.27,2.5, -64.41,3.13, -64.37,3.8, -64.82,4.06, -64.63,4.15, -63.89,4.02, -63.09,3.77, -62.8,4.01, -62.09,4.16, -60.97,4.54, -60.6,4.92, -60.73,5.2, -60.21,5.24, -59.98,5.01, -60.11,4.57, -59.77,4.42, -59.54,3.96, -59.82,3.61, -59.97,2.76, -59.72,2.25, -59.65,1.79, -59.03,1.32, -58.54,1.27, -58.43,1.46, -58.11,1.51, -57.66,1.68, -57.34,1.95, -56.78,1.86, -56.54,1.9, -55.995,1.82, -55.91,2.02, -56.07,2.22, -55.97,2.51, -55.57,2.42, -55.1,2.52, -54.52,2.31, -54.09,2.11, -53.78,2.38, -53.55,2.33, -53.42,2.05, -52.94,2.12, -52.56,2.5, -52.25,3.24, -51.66,4.16, -51.32,4.2, -51.07,3.65, -50.51,1.9, -49.97,1.74, -49.95,1.05, -50.7,0.22, -50.39,-0.08, -48.62,-0.24, -48.58,-1.24, -47.82,-0.58, -46.57,-0.94, -44.91,-1.55, -44.42,-2.14, -44.58,-2.69, -43.42,-2.38, -41.47,-2.91, -39.98,-2.87, -38.5,-3.7, -37.22,-4.82, -36.45,-5.11, -35.6,-5.15, -35.24,-5.46, -34.73,-7.34, -35.13,-8.996, -35.64,-9.65, -37.05,-11.04, -37.68,-12.17, -38.42,-13.04, -38.67,-13.06, -38.95,-13.79, -38.88,-15.67, -39.16,-17.21, -39.27,-17.87, -39.58,-18.26, -39.76,-19.6, -40.77,-20.9, -40.94,-21.94, -41.75,-22.37, -41.99,-22.97, -43.07,-22.97, -44.65,-23.35, -45.35,-23.8, -46.47,-24.09, -47.65,-24.89, -48.5,-25.88, -48.64,-26.62, -48.47,-27.18, -48.66,-28.19, -48.89,-28.67, -49.59,-29.22, -50.7,-30.98, -51.58,-31.78, -52.26,-32.25, -52.71,-33.2, -53.37,-33.77, -53.65,-33.2, -53.21,-32.73, -53.79,-32.05, -54.57,-31.49, -55.6,-30.85, -55.97,-30.88, -56.98,-30.11]
PARAGUAY = [-62.69,-22.25, -62.29,-21.05, -62.27,-20.51, -61.79,-19.63, -60.04,-19.34, -59.12,-19.36, -58.18,-19.87, -58.17,-20.18, -57.87,-20.73, -57.94,-22.09, -56.88,-22.28, -56.47,-22.09, -55.8,-22.36, -55.61,-22.66, -55.52,-23.57, -55.4,-23.96, -55.03,-24, -54.65,-23.84, -54.29,-24.02, -54.29,-24.57, -54.43,-25.16, -54.63,-25.74, -54.79,-26.62, -55.7,-27.39, -56.49,-27.55, -57.61,-27.4, -58.62,-27.12, -57.63,-25.6, -57.78,-25.16, -58.81,-24.77, -60.03,-24.03, -60.85,-23.88]
ARGENTINA = [-64.96,-22.08, -64.38,-22.8, -63.99,-21.99, -62.85,-22.03, -62.69,-22.25, -60.85,-23.88, -60.03,-24.03, -58.81,-24.77, -57.78,-25.16, -57.63,-25.6, -58.62,-27.12, -57.61,-27.4, -56.49,-27.55, -55.7,-27.39, -54.79,-26.62, -54.63,-25.74, -54.13,-25.55, -53.63,-26.12, -53.65,-26.92, -54.49,-27.47, -55.16,-27.88, -56.29,-28.85, -57.63,-30.22, -57.87,-31.02, -58.14,-32.04, -58.13,-33.04, -58.35,-33.26, -58.5,-34.43, -57.23,-35.29, -57.36,-35.98, -56.74,-36.41, -56.79,-36.9, -57.75,-38.18, -59.23,-38.72, -61.24,-38.93, -62.34,-38.83, -62.13,-39.42, -62.33,-40.17, -62.15,-40.68, -62.75,-41.03, -63.77,-41.17, -64.73,-40.8, -65.12,-41.06, -64.98,-42.06, -64.3,-42.36, -63.76,-42.04, -63.46,-42.56, -64.38,-42.87, -65.18,-43.5, -65.33,-44.5, -65.57,-45.04, -66.51,-45.04, -67.29,-45.55, -67.58,-46.3, -66.6,-47.03, -65.64,-47.24, -65.99,-48.13, -67.17,-48.7, -67.82,-49.87, -68.73,-50.26, -69.14,-50.73, -68.82,-51.77, -68.15,-52.35, -68.57,-52.3, -69.5,-52.14, -71.91,-52.01, -72.33,-51.43, -72.31,-50.68, -72.98,-50.74, -73.33,-50.38, -73.42,-49.32, -72.65,-48.88, -72.33,-48.24, -72.45,-47.74, -71.92,-46.88, -71.55,-45.56, -71.66,-44.97, -71.22,-44.78, -71.33,-44.41, -71.79,-44.21, -71.46,-43.79, -71.92,-43.41, -72.15,-42.25, -71.75,-42.05, -71.92,-40.83, -71.68,-39.81, -71.41,-38.92, -70.81,-38.55, -71.12,-37.58, -71.12,-36.66, -70.36,-36.01, -70.39,-35.17, -69.82,-34.19, -69.81,-33.27, -70.07,-33.09, -70.54,-31.37, -69.92,-30.34, -70.01,-29.37, -69.66,-28.46, -69.0,-27.52, -68.3,-26.9, -68.59,-26.51, -68.39,-26.19, -68.42,-24.52, -67.33,-24.03, -66.99,-22.99, -67.11,-22.74, -66.27,-21.83]
ARGENTINA_FUEGO = [-65.5,-55.2, -66.45,-55.25, -66.96,-54.9, -67.56,-54.87, -68.63,-54.87, -68.63,-52.64, -68.25,-53.1, -67.75,-53.85, -66.45,-54.45, -65.05,-54.7]
CHILE = [-69.59,-17.58, -69.1,-18.26, -68.97,-18.98, -68.44,-19.41, -68.76,-20.37, -68.22,-21.49, -67.83,-22.87, -67.11,-22.74, -66.99,-22.99, -67.33,-24.03, -68.42,-24.52, -68.39,-26.19, -68.59,-26.51, -68.3,-26.9, -69,-27.52, -69.66,-28.46, -70.01,-29.37, -69.92,-30.34, -70.54,-31.37, -70.07,-33.09, -69.81,-33.27, -69.82,-34.19, -70.39,-35.17, -70.36,-36.01, -71.12,-36.66, -71.12,-37.58, -70.81,-38.55, -71.41,-38.92, -71.68,-39.81, -71.92,-40.83, -71.75,-42.05, -72.15,-42.25, -71.92,-43.41, -71.46,-43.79, -71.79,-44.21, -71.33,-44.41, -71.22,-44.78, -71.66,-44.97, -71.55,-45.56, -71.92,-46.88, -72.45,-47.74, -72.33,-48.24, -72.65,-48.88, -73.42,-49.32, -73.33,-50.38, -72.98,-50.74, -72.31,-50.68, -72.33,-51.43, -71.91,-52.01, -69.5,-52.14, -68.57,-52.3, -69.46,-52.29, -69.94,-52.54, -70.85,-52.9, -71.01,-53.83, -71.43,-53.86, -72.56,-53.53, -73.7,-52.84, -74.95,-52.26, -75.26,-51.63, -74.98,-51.04, -75.48,-50.38, -75.61,-48.67, -75.18,-47.71, -74.13,-46.94, -75.64,-46.65, -74.69,-45.76, -74.35,-44.1, -73.24,-44.45, -72.72,-42.38, -73.39,-42.12, -73.7,-43.37, -74.33,-43.22, -74.02,-41.79, -73.68,-39.94, -73.22,-39.26, -73.51,-38.28, -73.59,-37.16, -73.17,-37.12, -72.55,-35.51, -71.86,-33.91, -71.44,-32.42, -71.67,-30.92, -71.37,-30.1, -71.49,-28.86, -70.91,-27.64, -70.72,-25.71, -70.4,-23.63, -70.09,-21.39, -70.16,-19.76, -70.37,-18.35, -69.86,-18.09]
CHILE_FUEGO = [-68.63,-52.64, -68.63,-54.87, -67.56,-54.87, -66.96,-54.9, -67.29,-55.3, -68.15,-55.61, -68.64,-55.58, -69.23,-55.5, -69.96,-55.2, -71.01,-55.05, -72.26,-54.49, -73.29,-53.96, -74.66,-52.84, -73.84,-53.05, -72.43,-53.72, -71.11,-54.07, -70.59,-53.62, -70.27,-52.93, -69.35,-52.52]
URUGUAY = [-57.63,-30.22, -56.98,-30.11, -55.97,-30.88, -55.6,-30.85, -54.57,-31.49, -53.79,-32.05, -53.21,-32.73, -53.65,-33.2, -53.37,-33.77, -53.81,-34.4, -54.94,-34.95, -55.67,-34.75, -56.22,-34.86, -57.14,-34.43, -57.82,-34.46, -58.43,-33.91, -58.35,-33.26, -58.13,-33.04, -58.14,-32.04, -57.87,-31.02]
FRENCH_GUIANA = [-52.56,2.5, -52.94,2.12, -53.42,2.05, -53.55,2.33, -53.78,2.38, -54.09,2.11, -54.52,2.31, -54.27,2.74, -54.18,3.19, -54.01,3.62, -54.4,4.21, -54.48,4.9, -53.96,5.76, -53.62,5.65, -52.88,5.41, -51.82,4.57, -51.66,4.16, -52.25,3.24]

FRANCE = [6.19,49.46, 6.66,49.2, 8.1,49.02, 7.59,48.33, 7.47,47.62, 7.19,47.45, 6.74,47.54, 6.77,47.29, 6.04,46.73, 6.02,46.27, 6.5,46.43, 6.84,45.99, 6.8,45.71, 7.1,45.33, 6.75,45.03, 7.1,44.67, 7.55,44.13, 7.44,43.69, 6.53,43.13, 4.56,43.4, 3.1,43.08, 2.99,42.47, 1.83,42.34, 0.7,42.8, 0.34,42.58, -1.5,43.03, -1.9,43.42, -1.38,44.02, -1.19,46.01, -2.23,47.06, -2.96,47.57, -4.49,47.95, -4.59,48.68, -3.3,48.9, -1.62,48.64, -1.93,49.78, -1,49.35, 1.34,50.13, 1.64,50.95, 2.51,51.15, 2.66,50.8, 3.12,50.78, 3.59,50.38, 4.29,49.91, 4.8,49.99, 5.67,49.53, 5.9,49.44]
CORSICA = [9.56,42.15, 9.23,41.38, 8.78,41.58, 8.54,42.26, 8.75,42.63, 9.39,43.01]
SPAIN = [-9.03,41.88, -8.98,42.59, -9.39,43.03, -7.98,43.75, -6.75,43.57, -5.41,43.57, -4.35,43.4, -3.52,43.46, -1.9,43.42, -1.5,43.03, 0.34,42.58, 0.7,42.8, 1.83,42.34, 2.99,42.47, 3.04,41.89, 2.09,41.23, 0.81,41.01, 0.72,40.68, 0.11,40.12, -0.28,39.31, 0.11,38.74, -0.47,38.29, -0.68,37.64, -1.44,37.44, -2.15,36.67, -3.42,36.66, -4.37,36.68, -5.38,36, -5.87,36.03, -6.24,36.37, -6.52,36.94, -7.45,37.1, -7.54,37.43, -7.17,37.8, -7.03,38.08, -7.37,38.37, -7.1,39.03, -7.5,39.63, -7.07,39.71, -7.03,40.18, -6.86,40.33, -6.85,41.11, -6.39,41.38, -6.67,41.83, -7.25,41.92, -7.42,41.79, -8.01,41.79, -8.26,42.28, -8.67,42.13]
PORTUGAL = [-9.03,41.88, -8.67,42.13, -8.26,42.28, -8.01,41.79, -7.42,41.79, -7.25,41.92, -6.67,41.83, -6.39,41.38, -6.85,41.11, -6.86,40.33, -7.03,40.18, -7.07,39.71, -7.5,39.63, -7.1,39.03, -7.37,38.37, -7.03,38.08, -7.17,37.8, -7.54,37.43, -7.45,37.1, -7.86,36.84, -8.38,36.98, -8.9,36.87, -8.75,37.65, -8.84,38.27, -9.29,38.36, -9.53,38.74, -9.45,39.39, -9.05,39.76, -8.98,40.16, -8.77,40.76, -8.79,41.18, -8.99,41.54]
UK_GREAT_BRITAIN = [-3.01,58.64, -4.07,57.55, -3.06,57.69, -1.96,57.68, -2.22,56.87, -3.12,55.97, -2.09,55.91, -1.11,54.62, -0.43,54.46, 0.47,53.48, 1.68,52.74, 1.56,52.1, 1.05,51.81, 1.45,51.29, 0.55,50.77, -0.79,50.77, -2.49,50.5, -2.96,50.7, -3.62,50.23, -4.54,50.34, -5.25,49.96, -5.78,50.16, -4.31,51.21, -3.41,51.43, -4.98,51.59, -5.27,51.99, -4.22,52.3, -4.77,52.84, -4.58,53.5, -3.09,53.4, -2.95,53.98, -3.63,54.62, -4.84,54.79, -5.08,55.06, -4.72,55.51, -5.05,55.78, -5.59,55.31, -5.65,56.28, -6.15,56.79, -5.79,57.82, -5.01,58.63, -4.07,58.55]
UK_N_IRELAND = [-6.2,53.87, -6.95,54.07, -7.57,54.06, -7.37,54.6, -7.57,55.13, -6.73,55.17, -5.66,54.55]
IRELAND = [-6.2,53.87, -6.03,53.15, -6.79,52.26, -8.56,51.67, -9.98,51.82, -9.17,52.86, -9.69,53.88, -8.33,54.66, -7.57,55.13, -7.37,54.6, -7.57,54.06, -6.95,54.07]
NETHERLANDS = [6.07,53.51, 6.91,53.48, 7.09,53.14, 6.84,52.23, 6.59,51.85, 5.99,51.85, 6.16,50.8, 5.61,51.04, 4.97,51.48, 4.05,51.27, 3.31,51.35, 3.83,51.62, 4.71,53.09]
BELGIUM = [3.31,51.35, 4.05,51.27, 4.97,51.48, 5.61,51.04, 6.16,50.8, 6.04,50.13, 5.78,50.09, 5.67,49.53, 4.8,49.99, 4.29,49.91, 3.59,50.38, 3.12,50.78, 2.66,50.8, 2.51,51.15]
DENMARK_JUTLAND = [9.92,54.98, 9.28,54.83, 8.53,54.96, 8.12,55.52, 8.09,56.54, 8.26,56.81, 8.54,57.11, 9.42,57.17, 9.78,57.45, 10.58,57.73, 10.55,57.22, 10.25,56.89, 10.37,56.61, 10.91,56.46, 10.67,56.08, 10.37,56.19, 9.65,55.47]
DENMARK_ZEALAND = [12.37,56.11, 12.69,55.61, 12.09,54.8, 11.04,55.36, 10.9,55.78]
SPITSBERGEN = [15.14,79.67, 15.52,80.02, 16.99,80.05, 18.25,79.7, 21.54,78.96, 19.03,78.56, 18.47,77.83, 17.59,77.64, 17.12,76.81, 15.91,76.77, 13.76,77.38, 14.67,77.74, 13.17,78.02, 11.22,78.87, 10.44,79.65, 13.17,80.01, 13.72,79.66]
NORDAUSTLANDET = [27.41,80.06, 25.92,79.52, 23.02,79.4, 20.08,79.57, 19.9,79.84, 18.46,79.86, 17.37,80.32, 20.46,80.6, 21.91,80.36, 22.92,80.66, 25.45,80.41]
EDGEOYA = [24.72,77.85, 22.49,77.44, 20.73,77.68, 21.42,77.94, 20.81,78.25, 22.88,78.45, 23.28,78.08]
NORWAY = [28.17,71.19, 31.29,70.45, 30.01,70.19, 31.1,69.56, 29.4,69.16, 28.59,69.06, 29.02,69.77, 27.73,70.16, 26.18,69.83, 25.69,69.09, 24.74,68.65, 23.66,68.89, 22.36,68.84, 21.24,69.37, 20.65,69.11, 20.03,69.07, 19.88,68.41, 17.99,68.57, 17.73,68.01, 16.77,68.01, 16.11,67.3, 15.11,66.19, 13.56,64.79, 13.92,64.45, 13.57,64.05, 12.58,64.07, 11.93,63.13, 11.99,61.8, 12.63,61.29, 12.3,60.12, 11.47,59.43, 11.03,58.86, 10.36,59.47, 8.38,58.31, 7.05,58.08, 5.67,58.59, 5.31,59.66, 4.99,61.97, 5.91,62.61, 8.55,63.45, 10.53,64.49, 12.36,65.88, 14.76,67.81, 16.44,68.56, 19.18,69.82, 21.38,70.26, 23.02,70.2, 24.55,71.03, 26.37,70.99]
SWEDEN = [11.03,58.86, 11.47,59.43, 12.3,60.12, 12.63,61.29, 11.99,61.8, 11.93,63.13, 12.58,64.07, 13.57,64.05, 13.92,64.45, 13.56,64.79, 15.11,66.19, 16.11,67.3, 16.77,68.01, 17.73,68.01, 17.99,68.57, 19.88,68.41, 20.03,69.07, 20.65,69.11, 21.98,68.62, 23.54,67.94, 23.57,66.4, 23.9,66.01, 22.18,65.72, 21.21,65.03, 21.54,64.41, 19.78,63.61, 17.85,62.75, 17.12,61.34, 17.83,60.64, 18.79,60.08, 17.87,58.95, 16.83,58.72, 16.45,57.04, 15.88,56.1, 14.67,56.2, 14.1,55.41, 12.94,55.36, 12.63,56.31, 11.79,57.44]
FINLAND = [28.59,69.06, 28.45,68.36, 29.98,67.7, 29.05,66.94, 30.22,65.81, 29.54,64.95, 30.44,64.2, 30.04,63.55, 31.52,62.87, 31.14,62.36, 30.21,61.78, 28.07,60.5, 26.26,60.42, 24.5,60.06, 22.87,59.85, 22.29,60.39, 21.32,60.72, 21.54,61.71, 21.06,62.61, 21.54,63.19, 22.44,63.82, 24.73,64.9, 25.4,65.11, 25.29,65.53, 23.9,66.01, 23.57,66.4, 23.54,67.94, 21.98,68.62, 20.65,69.11, 21.24,69.37, 22.36,68.84, 23.66,68.89, 24.74,68.65, 25.69,69.09, 26.18,69.83, 27.73,70.16, 29.02,69.77]
LATVIA = [21.06,56.03, 21.09,56.78, 21.58,57.41, 22.52,57.75, 23.32,57.01, 24.12,57.03, 24.31,57.79, 25.16,57.97, 25.6,57.85, 26.46,57.48, 27.29,57.47, 27.77,57.24, 27.86,56.76, 28.18,56.17, 27.1,55.78, 26.49,55.62, 25.53,56.1, 25,56.3, 24.86,56.37, 23.88,56.27, 22.2,56.34]
LITHUANIA = [21.06,56.03, 22.2,56.34, 23.88,56.27, 24.86,56.37, 25,56.3, 25.53,56.1, 26.49,55.62, 26.59,55.17, 25.77,54.85, 25.54,54.28, 24.45,53.91, 23.48,53.91, 23.24,54.22, 22.73,54.33, 22.65,54.58, 22.76,54.86, 22.32,55.02, 21.27,55.19]
BELARUS = [23.48,53.91, 24.45,53.91, 25.54,54.28, 25.77,54.85, 26.59,55.17, 26.49,55.62, 27.1,55.78, 28.18,56.17, 29.23,55.92, 29.37,55.67, 29.9,55.79, 30.87,55.55, 30.97,55.08, 30.76,54.81, 31.38,54.16, 31.79,53.97, 31.73,53.79, 32.41,53.62, 32.69,53.35, 32.3,53.13, 31.5,53.17, 31.31,53.07, 31.54,52.74, 31.79,52.1, 30.93,52.04, 30.62,51.82, 30.56,51.32, 30.16,51.42, 29.25,51.37, 28.99,51.6, 28.62,51.43, 28.24,51.57, 27.45,51.59, 26.34,51.83, 25.33,51.91, 24.55,51.89, 24.01,51.62, 23.53,51.58, 23.51,52.02, 23.2,52.49, 23.8,52.69, 23.8,53.09, 23.53,53.47]
UKRAINE = [31.79,52.1, 32.16,52.06, 32.41,52.29, 32.72,52.24, 33.75,52.34, 34.39,51.77, 34.14,51.57, 34.22,51.26, 35.38,51.04, 35.36,50.58, 36.63,50.23, 37.39,50.38, 38.01,49.92, 38.59,49.93, 40.07,49.6, 40.08,49.31, 39.67,48.78, 39.9,48.23, 39.74,47.9, 38.77,47.83, 38.26,47.55, 38.22,47.1, 37.43,47.02, 36.76,46.7, 35.82,46.65, 34.96,46.27, 35.02,45.65, 35.51,45.41, 36.53,45.47, 36.33,45.11, 35.24,44.94, 33.88,44.36, 33.33,44.56, 33.55,45.03, 32.45,45.33, 32.63,45.52, 33.59,46.06, 33.3,46.08, 31.74,46.33, 31.68,46.71, 30.75,46.58, 30.38,46.03, 29.6,45.29, 29.15,45.46, 28.68,45.3, 28.23,45.49, 28.49,45.6, 28.66,45.94, 28.93,46.26, 28.86,46.44, 29.07,46.52, 29.17,46.38, 29.76,46.35, 30.02,46.42, 29.84,46.53, 29.91,46.67, 29.56,46.93, 29.42,47.35, 29.05,47.51, 29.12,47.85, 28.67,48.12, 28.26,48.16, 27.52,48.47, 26.86,48.37, 26.62,48.22, 26.2,48.22, 25.95,47.99, 25.21,47.89, 24.87,47.74, 24.4,47.98, 23.76,47.99, 23.14,48.1, 22.71,47.88, 22.64,48.15, 22.09,48.42, 22.28,48.83, 22.56,49.09, 22.78,49.03, 22.52,49.48, 23.43,50.31, 23.92,50.42, 24.03,50.71, 23.53,51.58, 24.01,51.62, 24.55,51.89, 25.33,51.91, 26.34,51.83, 27.45,51.59, 28.24,51.57, 28.62,51.43, 28.99,51.6, 29.25,51.37, 30.16,51.42, 30.56,51.32, 30.62,51.82, 30.93,52.04]
MOLDOVA = [26.62,48.22, 26.86,48.37, 27.52,48.47, 28.26,48.16, 28.67,48.12, 29.12,47.85, 29.05,47.51, 29.42,47.35, 29.56,46.93, 29.91,46.67, 29.84,46.53, 30.02,46.42, 29.76,46.35, 29.17,46.38, 29.07,46.52, 28.86,46.44, 28.93,46.26, 28.66,45.94, 28.49,45.6, 28.23,45.49, 28.05,45.94, 28.16,46.37, 28.13,46.81, 27.55,47.41, 27.23,47.83, 26.92,48.12]
ROMANIA = [22.71,47.88, 23.14,48.1, 23.76,47.99, 24.4,47.98, 24.87,47.74, 25.21,47.89, 25.95,47.99, 26.2,48.22, 26.62,48.22, 26.92,48.12, 27.23,47.83, 27.55,47.41, 28.13,46.81, 28.16,46.37, 28.05,45.94, 28.23,45.49, 28.68,45.3, 29.15,45.46, 29.6,45.29, 29.63,45.04, 29.14,44.82, 28.84,44.91, 28.56,43.71, 27.97,43.81, 27.24,44.18, 26.07,43.94, 25.57,43.69, 24.1,43.74, 23.33,43.9, 22.94,43.82, 22.66,44.23, 22.47,44.41, 22.71,44.58, 22.46,44.7, 22.15,44.48, 21.56,44.77, 21.48,45.18, 20.87,45.42, 20.76,45.73, 20.22,46.13, 21.02,46.32, 21.63,46.99, 22.1,47.67]
BULGARIA = [22.66,44.23, 22.94,43.82, 23.33,43.9, 24.1,43.74, 25.57,43.69, 26.07,43.94, 27.24,44.18, 27.97,43.81, 28.56,43.71, 28.04,43.29, 27.67,42.58, 27.99,42.01, 27.14,42.14, 26.12,41.83, 26.11,41.33, 25.2,41.23, 24.49,41.58, 23.69,41.31, 22.95,41.34, 22.88,41.99, 22.38,42.32, 22.55,42.46, 22.44,42.58, 22.6,42.9, 22.99,43.12, 22.5,43.64, 22.41,44.01]
CZECHIA = [15.02,51.11, 15.49,50.79, 16.24,50.7, 16.18,50.42, 16.72,50.22, 16.87,50.47, 17.55,50.36, 18.39,50.1, 18.85,49.5, 18.55,49.5, 18.4,49.32, 18.17,49.27, 18.1,49.04, 17.91,49, 17.89,48.9, 17.52,48.8, 17.1,48.82, 16.96,48.6, 16.5,48.79, 16.03,48.73, 15.25,49.04, 14.9,48.96, 14.34,48.56, 13.6,48.88, 13.03,49.31, 12.52,49.55, 12.42,49.97, 12.24,50.27, 12.97,50.48, 13.34,50.73, 14.06,50.93, 14.31,51.12]
SLOVAKIA = [18.85,49.5, 18.91,49.44, 19.32,49.57, 19.83,49.22, 20.42,49.43, 20.89,49.33, 21.61,49.47, 22.56,49.09, 22.28,48.83, 22.09,48.42, 21.87,48.32, 20.8,48.62, 20.47,48.56, 20.24,48.33, 19.77,48.2, 19.66,48.27, 19.17,48.11, 18.78,48.08, 18.7,47.88, 17.86,47.76, 17.49,47.87, 16.98,48.12, 16.88,48.47, 16.96,48.6, 17.1,48.82, 17.52,48.8, 17.89,48.9, 17.91,49, 18.1,49.04, 18.17,49.27, 18.4,49.32, 18.55,49.5]
AUSTRIA = [16.98,48.12, 16.9,47.71, 16.34,47.71, 16.53,47.5, 16.2,46.85, 16.01,46.68, 15.14,46.66, 14.63,46.43, 13.81,46.51, 12.38,46.77, 12.15,47.12, 11.16,46.94, 11.05,46.75, 10.44,46.89, 9.93,46.92, 9.48,47.1, 9.63,47.35, 9.59,47.53, 9.9,47.58, 10.4,47.3, 10.54,47.57, 11.43,47.52, 12.14,47.7, 12.62,47.67, 12.93,47.47, 13.03,47.64, 12.88,48.29, 13.24,48.42, 13.6,48.88, 14.34,48.56, 14.9,48.96, 15.25,49.04, 16.03,48.73, 16.5,48.79, 16.96,48.6, 16.88,48.47]
SLOVENIA = [13.81,46.51, 14.63,46.43, 15.14,46.66, 16.01,46.68, 16.2,46.85, 16.37,46.84, 16.56,46.5, 15.77,46.24, 15.67,45.83, 15.32,45.73, 15.33,45.45, 14.94,45.47, 14.6,45.63, 14.41,45.47, 13.72,45.5, 13.94,45.59, 13.7,46.02]
HUNGARY = [16.2,46.85, 16.53,47.5, 16.34,47.71, 16.9,47.71, 16.98,48.12, 17.49,47.87, 17.86,47.76, 18.7,47.88, 18.78,48.08, 19.17,48.11, 19.66,48.27, 19.77,48.2, 20.24,48.33, 20.47,48.56, 20.8,48.62, 21.87,48.32, 22.09,48.42, 22.64,48.15, 22.71,47.88, 22.1,47.67, 21.63,46.99, 21.02,46.32, 20.22,46.13, 19.6,46.17, 18.83,45.91, 18.46,45.76, 17.63,45.95, 16.88,46.38, 16.56,46.5, 16.37,46.84]
SWITZERLAND = [9.59,47.53, 9.63,47.35, 9.48,47.1, 9.93,46.92, 10.44,46.89, 10.36,46.48, 9.92,46.31, 9.18,46.44, 8.97,46.04, 8.49,46.01, 8.32,46.16, 7.76,45.82, 7.27,45.78, 6.84,45.99, 6.5,46.43, 6.02,46.27, 6.04,46.73, 6.77,47.29, 6.74,47.54, 7.19,47.45, 7.47,47.62, 8.32,47.61, 8.52,47.83]
ITALY = [12.38,46.77, 13.81,46.51, 13.7,46.02, 13.94,45.59, 13.14,45.74, 12.33,45.38, 12.38,44.89, 12.26,44.6, 12.59,44.09, 13.53,43.59, 14.03,42.76, 15.14,41.96, 15.93,41.96, 16.17,41.74, 15.89,41.54, 16.79,41.18, 17.52,40.88, 18.38,40.36, 18.48,40.17, 18.29,39.81, 17.74,40.28, 16.87,40.44, 16.45,39.8, 17.17,39.42, 17.05,38.9, 16.64,38.84, 16.1,37.99, 15.68,37.91, 15.69,38.21, 15.89,38.75, 16.11,38.96, 15.72,39.54, 15.41,40.05, 14.998,40.17, 14.7,40.6, 14.06,40.79, 13.63,41.19, 12.89,41.25, 12.11,41.7, 11.19,42.36, 10.51,42.93, 10.2,43.92, 9.7,44.04, 8.89,44.37, 8.43,44.23, 7.85,43.77, 7.44,43.69, 7.55,44.13, 7.1,44.67, 6.75,45.03, 7.1,45.33, 6.8,45.71, 6.84,45.99, 7.27,45.78, 7.76,45.82, 8.32,46.16, 8.49,46.01, 8.97,46.04, 9.18,46.44, 9.92,46.31, 10.36,46.48, 10.44,46.89, 11.05,46.75, 11.16,46.94, 12.15,47.12]
SICILY = [15.52,38.23, 15.16,37.44, 15.31,37.13, 15.1,36.62, 14.34,37, 13.83,37.1, 12.43,37.61, 12.57,38.13, 13.74,38.03, 14.76,38.14]
SARDINIA = [9.21,41.21, 9.81,40.5, 9.67,39.18, 9.21,39.24, 8.81,38.91, 8.43,39.17, 8.39,40.38, 8.16,40.95, 8.71,40.9]
BOSNIA = [19.01,44.86, 19.37,44.86, 19.12,44.42, 19.6,44.04, 19.45,43.57, 19.22,43.52, 19,43.43, 18.71,43.2, 18.56,42.65, 17.67,43.03, 17.3,43.45, 16.92,43.67, 16.46,44.04, 16.24,44.35, 15.75,44.82, 15.96,45.23, 16.32,45, 16.53,45.21, 17.0,45.23, 17.86,45.07, 18.55,45.08]
ALBANIA = [20.59,41.86, 20.46,41.52, 20.61,41.09, 21.02,40.84, 21,40.58, 20.67,40.43, 20.62,40.11, 20.15,39.62, 19.98,39.69, 19.96,39.92, 19.41,40.25, 19.32,40.73, 19.4,41.41, 19.54,41.72, 19.37,41.88, 19.3,42.2, 19.74,42.69, 19.8,42.5, 20.07,42.59, 20.28,42.32, 20.52,42.22]
N_MACEDONIA = [22.38,42.32, 22.88,41.99, 22.95,41.34, 22.76,41.3, 22.6,41.13, 22.06,41.15, 21.67,40.93, 21.02,40.84, 20.61,41.09, 20.46,41.52, 20.59,41.86, 20.72,41.85, 20.76,42.05, 21.35,42.21, 21.58,42.25, 21.92,42.3]
GREECE = [20.15,39.62, 20.62,40.11, 20.67,40.43, 21,40.58, 21.02,40.84, 21.67,40.93, 22.06,41.15, 22.6,41.13, 22.76,41.3, 22.95,41.34, 23.69,41.31, 24.49,41.58, 25.2,41.23, 26.11,41.33, 26.12,41.83, 26.6,41.56, 26.29,40.94, 26.06,40.82, 25.45,40.85, 24.93,40.95, 23.71,40.69, 24.41,40.12, 23.9,39.96, 23.34,40.22, 22.81,40.48, 22.63,40.26, 22.85,39.66, 23.35,39.19, 22.97,38.97, 23.53,38.51, 24.03,38.22, 24.04,37.66, 23.12,37.92, 23.41,37.41, 22.77,37.31, 23.15,36.42, 22.49,36.41, 21.67,36.84, 21.3,37.64, 21.12,38.31, 20.73,38.77, 20.22,39.34]
CRETE = [23.7,35.71, 24.25,35.37, 25.02,35.42, 25.77,35.35, 25.75,35.18, 26.29,35.3, 26.16,35, 24.72,34.92, 24.74,35.08, 23.51,35.28]
CYPRUS = [33.97,35.06, 34.0,34.98, 32.98,34.57, 32.49,34.7, 32.26,35.1, 32.73,35.14, 32.92,35.09, 33.19,35.17, 33.38,35.16, 33.66,35.37, 34.58,35.67, 33.9,35.25]
TURKEY = [36.91,41.34, 38.35,40.95, 39.51,41.1, 40.37,41.01, 41.55,41.54, 42.62,41.58, 43.58,41.09, 43.75,40.74, 43.66,40.25, 44.4,40, 44.79,39.71, 44.11,39.43, 44.42,38.28, 44.23,37.97, 44.77,37.17, 44.29,37, 43.94,37.26, 42.78,37.39, 42.35,37.23, 41.21,37.07, 40.67,37.09, 39.52,36.72, 38.7,36.71, 38.17,36.9, 37.07,36.62, 36.74,36.82, 36.69,36.26, 36.42,36.04, 36.15,35.82, 35.78,36.27, 36.16,36.65, 35.55,36.57, 34.71,36.8, 34.03,36.22, 32.51,36.11, 31.7,36.64, 30.62,36.68, 30.39,36.26, 29.7,36.14, 28.73,36.68, 27.64,36.66, 27.05,37.65, 26.32,38.21, 26.8,38.99, 26.17,39.46, 27.28,40.42, 28.82,40.46, 29.24,41.22, 31.15,41.09, 32.35,41.74, 33.51,42.02, 35.17,42.04]
TURKEY_THRACE = [26.04,40.62, 26.06,40.82, 26.29,40.94, 26.6,41.56, 26.12,41.83, 27.14,42.14, 27.99,42.01, 28.12,41.62, 28.99,41.3, 28.81,41.05, 27.62,41, 27.19,40.69, 26.36,40.15]
GEORGIA = [39.96,43.43, 40.08,43.55, 40.92,43.38, 42.39,43.22, 43.76,42.74, 43.93,42.55, 44.54,42.71, 45.47,42.5, 45.78,42.09, 46.40,41.86, 46.15,41.72, 46.64,41.18, 46.5,41.06, 45.96,41.12, 45.18,41.41, 45,41.27, 43.58,41.09, 42.62,41.58, 41.55,41.54, 41.7,41.96, 41.45,42.65, 40.88,43.01, 40.32,43.13]
ARMENIA = [43.58,41.09, 44.97,41.25, 45.18,40.99, 45.56,40.81, 45.36,40.56, 45.89,40.22, 45.61,39.9, 46.03,39.63, 46.48,39.46, 46.51,38.77, 46.14,38.74, 45.74,39.32, 45.74,39.47, 45.3,39.47, 45,39.74, 44.79,39.71, 44.4,40, 43.66,40.25, 43.75,40.74]
AZERBAIJAN = [46.5,41.06, 46.64,41.18, 46.15,41.72, 46.40,41.86, 46.69,41.83, 47.37,41.22, 47.82,41.15, 47.99,41.41, 48.58,41.81, 49.11,41.28, 49.62,40.57, 50.08,40.53, 50.39,40.26, 49.57,40.18, 49.4,39.4, 49.22,39.05, 48.86,38.82, 48.88,38.32, 48.63,38.27, 48.01,38.79, 48.36,39.29, 48.06,39.58, 47.69,39.51, 46.51,38.77, 46.48,39.46, 46.03,39.63, 45.61,39.9, 45.89,40.22, 45.36,40.56, 45.56,40.81, 45.18,40.99, 44.97,41.25, 45.18,41.41, 45.96,41.12]
ISRAEL = [35.72,32.71, 35.55,32.39, 35.18,32.53, 34.97,31.87, 35.23,31.75, 34.97,30.5, 34.93,29.5, 34.27,31.22, 34.56,31.55, 34.49,31.61, 34.75,32.07, 34.96,32.83, 35.13,33.09, 35.46,33.09, 35.56,33.26, 35.82,33.28, 35.84,32.87]
LEBANON = [35.82,33.28, 35.56,33.26, 35.46,33.09, 35.13,33.09, 35.48,33.91, 35.98,34.61, 36,34.64, 36.45,34.59, 36.61,34.2, 36.07,33.82]
SAUDI_ARABIA = [42.78,16.35, 42.65,16.77, 42.35,17.08, 42.27,17.47, 41.75,17.83, 41.22,18.67, 40.94,19.49, 40.25,20.17, 39.8,20.34, 39.14,21.29, 39.02,21.99, 39.07,22.58, 38.49,23.69, 38.02,24.08, 37.48,24.29, 37.15,24.86, 37.21,25.08, 36.93,25.6, 36.64,25.83, 36.25,26.57, 35.64,27.38, 35.13,28.06, 34.63,28.06, 34.79,28.61, 34.83,28.96, 34.96,29.36, 36.07,29.2, 36.5,29.51, 36.74,29.87, 37.5,30, 37.67,30.34, 37.99,30.51, 37,31.51, 39,32.01, 39.2,32.16, 40.4,31.89, 41.89,31.19, 44.71,29.18, 46.57,29.1, 47.46,29, 47.71,28.53, 48.42,28.55, 48.81,27.69, 49.3,27.46, 49.47,27.11, 50.15,26.69, 50.21,26.28, 50.11,25.94, 50.24,25.61, 50.53,25.33, 50.66,24.999, 50.81,24.75, 51.11,24.56, 51.39,24.63, 51.58,24.25, 51.62,24.01, 52,23, 55.01,22.5, 55.21,22.71, 55.67,22, 55,20, 52,19, 49.12,18.62, 48.18,18.17, 47.47,17.12, 47,16.95, 46.75,17.28, 46.37,17.23, 45.4,17.33, 45.22,17.43, 44.06,17.41, 43.79,17.32, 43.38,17.58, 43.12,17.09, 43.22,16.67]

ETHIOPIA = [47.79,8.0, 44.96,5.0, 43.66,4.96, 42.77,4.25, 42.13,4.23, 41.86,3.92, 41.17,3.92, 40.77,4.26, 39.85,3.84, 39.56,3.42, 38.92,3.5, 38.12,3.6, 36.86,4.45, 36.16,4.45, 35.82,5.34, 35.3,5.51, 34.71,6.59, 34.08,7.23, 33.57,7.71, 32.95,7.78, 33.29,8.35, 33.83,8.38, 33.97,8.68, 33.96,9.58, 34.26,10.63, 34.73,10.91, 34.83,11.32, 35.26,12.08, 35.86,12.58, 36.27,13.56, 36.43,14.42, 37.59,14.21, 37.91,14.96, 38.51,14.51, 39.1,14.74, 39.34,14.53, 40.03,14.52, 40.9,14.12, 41.15,13.77, 41.6,13.45, 42,12.87, 42.35,12.54, 42.0,12.1, 41.66,11.63, 41.74,11.36, 41.76,11.05, 42.31,11.03, 42.55,11.11, 42.78,10.93, 42.56,10.57, 42.93,10.02, 43.3,9.54, 43.68,9.18, 46.95,7.997]
SOMALIA = [41.58,-1.68, 40.99,-0.86, 40.98,2.78, 41.86,3.92, 42.13,4.23, 42.77,4.25, 43.66,4.96, 44.96,5, 47.79,8, 48.49,8.84, 48.95,9.45, 48.95,11.41, 49.27,11.43, 49.73,11.58, 50.26,11.68, 50.73,12.02, 51.11,12.02, 51.13,11.75, 51.11,10.64, 50.83,9.28, 50.55,9.2, 50.07,8.08, 49.45,6.8, 48.59,5.34, 47.74,4.22, 46.56,2.86, 45.56,2.05, 43.97,1.01, 43.14,0.29, 42.04,-0.92]
UGANDA = [33.9,-0.95, 31.87,-1.03, 30.77,-1.01, 30.42,-1.13, 29.82,-1.44, 29.58,-1.34, 29.59,-0.59, 29.82,-0.21, 29.88,0.6, 30.09,1.06, 30.47,1.58, 30.85,1.85, 31.17,2.2, 30.77,2.34, 30.83,3.51, 31.25,3.78, 31.88,3.56, 32.69,3.79, 33.39,3.79, 34.01,4.25, 34.48,3.56, 34.6,3.05, 35.04,1.91, 34.67,1.18, 33.89,0.11]
TANZANIA = [33.9,-0.95, 34.07,-1.06, 37.7,-3.1, 37.77,-3.68, 39.2,-4.68, 38.74,-5.91, 38.8,-6.48, 39.44,-6.84, 39.47,-7.1, 39.19,-7.7, 39.25,-8.01, 39.19,-8.49, 39.54,-9.11, 39.95,-10.1, 40.32,-10.32, 39.52,-10.9, 38.43,-11.29, 37.83,-11.27, 37.47,-11.57, 36.78,-11.59, 36.51,-11.72, 35.31,-11.44, 34.56,-11.52, 34.28,-10.16, 33.74,-9.42, 32.76,-9.23, 32.19,-8.93, 31.56,-8.76, 31.16,-8.59, 30.74,-8.34, 30.2,-7.08, 29.62,-6.52, 29.42,-5.94, 29.52,-5.42, 29.34,-4.5, 29.75,-4.45, 30.12,-4.09, 30.51,-3.57, 30.62,-3.36, 30.53,-2.81, 30.47,-2.41, 30.76,-2.29, 30.42,-1.13, 30.77,-1.01, 31.87,-1.03]
ZAMBIA = [30.74,-8.34, 31.16,-8.59, 31.56,-8.76, 32.19,-8.93, 32.76,-9.23, 33.23,-9.68, 33.49,-10.53, 33.32,-10.8, 33.11,-11.61, 33.31,-12.44, 32.99,-12.78, 32.69,-13.71, 33.21,-13.97, 30.18,-14.8, 30.27,-15.51, 29.52,-15.64, 28.95,-16.04, 28.83,-16.39, 28.47,-16.47, 27.6,-17.29, 27.04,-17.94, 26.71,-17.96, 26.38,-17.85, 25.26,-17.74, 25.08,-17.66, 25.08,-17.58, 24.68,-17.35, 24.03,-17.3, 23.22,-17.52, 22.56,-16.9, 21.89,-16.08, 21.93,-12.9, 24.02,-12.91, 23.93,-12.57, 24.08,-12.19, 23.9,-11.72, 24.02,-11.24, 23.91,-10.93, 24.26,-10.95, 24.31,-11.26, 24.78,-11.24, 25.42,-11.33, 25.75,-11.78, 26.55,-11.92, 27.16,-11.61, 27.39,-12.13, 28.16,-12.27, 28.52,-12.7, 28.93,-13.25, 29.7,-13.26, 29.62,-12.18, 29.34,-12.36, 28.64,-11.97, 28.37,-11.79, 28.5,-10.79, 28.67,-9.61, 28.45,-9.16, 28.73,-8.53, 29,-8.41, 30.35,-8.24]
MALAWI = [32.76,-9.23, 33.74,-9.42, 33.94,-9.69, 34.28,-10.16, 34.56,-11.52, 34.28,-12.28, 34.56,-13.58, 34.91,-13.57, 35.27,-13.89, 35.69,-14.61, 35.77,-15.9, 35.34,-16.11, 35.03,-16.8, 34.38,-16.18, 34.31,-15.48, 34.52,-15.01, 34.46,-14.61, 34.06,-14.36, 33.79,-14.45, 33.21,-13.97, 32.69,-13.71, 32.99,-12.78, 33.31,-12.44, 33.11,-11.61, 33.32,-10.8, 33.49,-10.53, 33.23,-9.68]
MOZAMBIQUE = [34.56,-11.52, 35.31,-11.44, 36.51,-11.72, 36.78,-11.59, 37.47,-11.57, 37.83,-11.27, 38.43,-11.29, 39.52,-10.9, 40.32,-10.32, 40.48,-10.77, 40.44,-11.76, 40.56,-12.64, 40.6,-14.2, 40.78,-14.69, 40.48,-15.41, 40.09,-16.1, 39.45,-16.72, 38.54,-17.1, 37.41,-17.59, 36.28,-18.66, 35.9,-18.84, 35.2,-19.55, 34.79,-19.78, 34.7,-20.5, 35.18,-21.25, 35.37,-21.84, 35.39,-22.14, 35.56,-22.09, 35.53,-23.07, 35.37,-23.54, 35.61,-23.71, 35.46,-24.12, 35.04,-24.48, 34.22,-24.82, 33.01,-25.36, 32.57,-25.73, 32.66,-26.15, 32.92,-26.22, 32.83,-26.74, 32.07,-26.73, 31.99,-26.29, 31.84,-25.84, 31.75,-25.48, 31.93,-24.37, 31.67,-23.66, 31.19,-22.25, 32.24,-21.12, 32.51,-20.4, 32.66,-20.3, 32.77,-19.72, 32.61,-19.42, 32.65,-18.67, 32.85,-17.98, 32.85,-16.71, 32.33,-16.39, 31.85,-16.32, 31.64,-16.07, 31.17,-15.86, 30.34,-15.88, 30.27,-15.51, 30.18,-14.8, 33.21,-13.97, 33.79,-14.45, 34.06,-14.36, 34.46,-14.61, 34.52,-15.01, 34.31,-15.48, 34.38,-16.18, 35.03,-16.8, 35.34,-16.11, 35.77,-15.9, 35.69,-14.61, 35.27,-13.89, 34.91,-13.57, 34.56,-13.58, 34.28,-12.28]
ANGOLA = [16.33,-5.88, 16.57,-6.62, 16.86,-7.22, 17.09,-7.55, 17.47,-8.07, 18.13,-7.99, 18.46,-7.85, 19.02,-7.99, 19.17,-7.74, 19.42,-7.16, 20.04,-7.12, 20.09,-6.94, 20.6,-6.94, 20.51,-7.3, 21.73,-7.29, 21.75,-7.92, 21.95,-8.31, 21.8,-8.91, 21.88,-9.52, 22.21,-9.89, 22.16,-11.08, 22.4,-10.99, 22.84,-11.02, 23.46,-10.87, 23.91,-10.93, 24.02,-11.24, 23.9,-11.72, 24.08,-12.19, 23.93,-12.57, 24.02,-12.91, 21.93,-12.9, 21.89,-16.08, 22.56,-16.9, 23.22,-17.52, 21.38,-17.93, 18.96,-17.79, 18.26,-17.31, 14.21,-17.35, 14.06,-17.42, 13.46,-16.97, 12.81,-16.94, 12.22,-17.11, 11.73,-17.3, 11.64,-16.67, 11.78,-15.79, 12.12,-14.88, 12.18,-14.45, 12.5,-13.55, 12.74,-13.14, 13.31,-12.48, 13.63,-12.04, 13.74,-11.3, 13.69,-10.73, 13.39,-10.37, 13.12,-9.77, 12.88,-9.17, 12.93,-8.96, 13.24,-8.56, 12.93,-7.6, 12.73,-6.93, 12.23,-6.29, 12.32,-6.1, 12.74,-5.97, 13.02,-5.98, 13.38,-5.86]
CABINDA = [12.44,-5.68, 12.18,-5.79, 11.91,-5.04, 12.32,-4.61, 12.62,-4.44, 12.47,-5.25]
NAMIBIA = [16.34,-28.58, 15.6,-27.82, 15.21,-27.09, 14.99,-26.12, 14.74,-25.39, 14.41,-23.85, 14.39,-22.66, 14.26,-22.11, 13.87,-21.7, 13.35,-20.87, 12.83,-19.67, 12.61,-19.05, 11.79,-18.07, 11.73,-17.3, 12.22,-17.11, 12.81,-16.94, 13.46,-16.97, 14.06,-17.42, 14.21,-17.35, 18.26,-17.31, 18.96,-17.79, 21.38,-17.93, 23.22,-17.52, 24.03,-17.3, 24.68,-17.35, 25.08,-17.58, 25.08,-17.66, 24.52,-17.89, 24.22,-17.89, 23.58,-18.28, 23.2,-17.87, 21.66,-18.22, 20.91,-18.25, 20.88,-21.81, 19.9,-21.85, 19.9,-24.77, 19.89,-28.46, 19,-28.97, 18.46,-29.05, 17.84,-28.86, 17.39,-28.78, 17.22,-28.36, 16.82,-28.08]
SOUTH_AFRICA = [16.34,-28.58, 16.82,-28.08, 17.22,-28.36, 17.39,-28.78, 17.84,-28.86, 18.46,-29.05, 19,-28.97, 19.89,-28.46, 19.9,-24.77, 20.17,-24.92, 20.76,-25.87, 20.67,-26.48, 20.89,-26.83, 21.61,-26.73, 22.11,-26.28, 22.58,-25.98, 22.82,-25.5, 23.31,-25.27, 23.73,-25.39, 24.21,-25.67, 25.03,-25.72, 25.66,-25.49, 25.77,-25.17, 25.94,-24.7, 26.49,-24.62, 26.79,-24.24, 27.12,-23.57, 28.02,-22.83, 29.43,-22.09, 29.84,-22.1, 30.32,-22.27, 30.66,-22.15, 31.19,-22.25, 31.67,-23.66, 31.93,-24.37, 31.75,-25.48, 31.84,-25.84, 31.99,-26.29, 32.07,-26.73, 32.83,-26.74, 32.58,-27.47, 32.46,-28.3, 32.2,-28.75, 31.33,-29.4, 30.9,-29.91, 30.62,-30.42, 30.06,-31.14, 28.93,-32.17, 28.22,-32.77, 27.46,-33.23, 26.42,-33.61, 25.91,-33.67, 25.78,-33.94, 25.17,-33.8, 24.68,-33.99, 23.59,-33.79, 22.99,-33.92, 22.57,-33.86, 21.54,-34.26, 20.69,-34.42, 20.07,-34.8, 19.62,-34.82, 19.19,-34.46, 18.86,-34.44, 18.42,-33.997, 18.38,-34.14, 18.24,-33.87, 18.25,-33.28, 17.93,-32.61, 18.25,-32.43, 18.22,-31.66, 17.57,-30.73, 17.06,-29.88]
LESOTHO = [28.98,-28.96, 29.33,-29.26, 29.02,-29.74, 28.85,-30.07, 28.29,-30.23, 28.11,-30.55, 27.75,-30.65, 27.0,-29.88, 27.53,-29.24, 28.07,-28.85, 28.54,-28.65]
ESWATINI = [32.07,-26.73, 31.87,-27.18, 31.28,-27.23, 30.69,-26.74, 30.68,-26.4, 30.95,-26.02, 31.04,-25.73, 31.33,-25.66, 31.84,-25.84, 31.99,-26.29]
MADAGASCAR = [49.54,-12.47, 49.81,-12.9, 50.06,-13.56, 50.22,-14.76, 50.48,-15.23, 50.38,-15.71, 50.2,-16, 49.86,-15.41, 49.67,-15.71, 49.86,-16.45, 49.77,-16.88, 49.5,-17.11, 49.44,-17.95, 49.04,-19.12, 48.55,-20.5, 47.93,-22.39, 47.55,-23.78, 47.1,-24.94, 46.28,-25.18, 45.41,-25.6, 44.83,-25.35, 44.04,-25, 43.76,-24.46, 43.7,-23.57, 43.35,-22.78, 43.25,-22.06, 43.43,-21.34, 43.89,-21.16, 43.9,-20.83, 44.37,-20.07, 44.46,-19.44, 44.23,-18.96, 44.04,-18.33, 43.96,-17.41, 44.31,-16.85, 44.45,-16.22, 44.94,-16.18, 45.5,-15.97, 45.87,-15.79, 46.31,-15.78, 46.88,-15.21, 47.71,-14.59, 48,-14.09, 47.87,-13.66, 48.29,-13.78, 48.85,-13.09, 48.86,-12.49, 49.19,-12.04]
BURKINA_FASO = [-2.83,9.64, -3.51,9.9, -3.98,9.86, -4.33,9.61, -4.78,9.82, -4.95,10.15, -5.4,10.37, -5.47,10.95, -5.2,11.38, -5.21,11.71, -4.43,12.01, -4.28,12.71, -4.01,13.47, -3.52,13.34, -3.1,13.54, -2.97,13.8, -2.19,14.25, -2,14.56, -1.07,14.97, -0.52,15.12, -0.27,14.92, 0.37,14.93, 0.3,14.44, 0.43,13.99, 0.99,13.34, 1.02,12.85, 2.18,12.63, 2.15,11.94, 1.94,11.64, 1.45,11.55, 1.24,11.11, 0.9,11, 0.02,11.02, -0.44,11.1, -0.76,10.94, -1.2,11.01, -2.94,10.96, -2.96,10.4]
GUINEA_BISSAU = [-15.13,11.04, -15.66,11.46, -16.09,11.52, -16.31,11.81, -16.31,11.96, -16.61,12.17, -16.68,12.38, -16.15,12.55, -15.82,12.52, -15.55,12.63, -13.7,12.59, -13.72,12.25, -13.83,12.14, -13.74,11.81, -13.9,11.68, -14.12,11.68, -14.38,11.51, -14.69,11.53]

# each country: name, bin index into BIN_LABELS, outlines
COUNTRIES = [
    ("Russia", 0, [RUSSIA, RUSSIA_CHUKOTKA, RUSSIA_WRANGEL_W, RUSSIA_WRANGEL_E, SAKHALIN, NOVAYA_ZEMLYA, SEVERNAYA_A, SEVERNAYA_B, FRANZ_JOSEF, NEW_SIBERIA_A, NEW_SIBERIA_B, NEW_SIBERIA_C]),
    ("China", 0, [CHINA, HAINAN]),
    ("Tajikistan", 0, [TAJIKISTAN]),
    ("Spain", 0, [SPAIN]),
    ("Switzerland", 0, [SWITZERLAND]),
    ("Czechia", 0, [CZECHIA]),
    ("Slovakia", 0, [SLOVAKIA]),
    ("Romania", 0, [ROMANIA]),
    ("Bulgaria", 0, [BULGARIA]),
    ("Ukraine", 0, [UKRAINE]),
    ("Moldova", 0, [MOLDOVA]),
    ("Lithuania", 0, [LITHUANIA]),
    ("Albania", 0, [ALBANIA]),
    ("Malawi", 0, [MALAWI]),
    ("Madagascar", 0, [MADAGASCAR]),
    ("Papua New Guinea", 0, [PNG_MAIN, PNG_BRITAIN, PNG_IRELAND, PNG_BOUGAINVILLE]),
    ("New Zealand", 0, [NZ_SOUTH, NZ_NORTH]),
    ("Nicaragua", 1, [NICARAGUA]),
    ("Latvia", 1, [LATVIA]),
    ("Bosnia", 1, [BOSNIA]),
    ("North Macedonia", 1, [N_MACEDONIA]),
    ("Georgia", 1, [GEORGIA]),
    ("Uganda", 1, [UGANDA]),
    ("Angola", 1, [ANGOLA, CABINDA]),
    ("Namibia", 1, [NAMIBIA]),
    ("United States", 2, [USA_MAIN, ALASKA, ST_LAWRENCE, NUNIVAK, KODIAK, HAWAII, MAUI, OAHU, KAUAI]),
    ("Guatemala", 2, [GUATEMALA]),
    ("El Salvador", 2, [EL_SALVADOR]),
    ("Norway", 2, [NORWAY, SPITSBERGEN, NORDAUSTLANDET, EDGEOYA]),
    ("Belarus", 2, [BELARUS]),
    ("Belgium", 2, [BELGIUM]),
    ("Slovenia", 2, [SLOVENIA]),
    ("Armenia", 2, [ARMENIA]),
    ("Azerbaijan", 2, [AZERBAIJAN]),
    ("Mongolia", 2, [MONGOLIA]),
    ("Thailand", 2, [THAILAND]),
    ("Ethiopia", 2, [ETHIOPIA]),
    ("Mexico", 3, [MEXICO]),
    ("Panama", 3, [PANAMA]),
    ("Dominican Republic", 3, [DOMINICAN_REP]),
    ("Colombia", 3, [COLOMBIA]),
    ("Brazil", 3, [BRAZIL]),
    ("Paraguay", 3, [PARAGUAY]),
    ("Ireland", 3, [IRELAND]),
    ("Netherlands", 3, [NETHERLANDS]),
    ("Finland", 3, [FINLAND]),
    ("Hungary", 3, [HUNGARY]),
    ("Turkey", 3, [TURKEY, TURKEY_THRACE]),
    ("Somalia", 3, [SOMALIA]),
    ("Burkina Faso", 3, [BURKINA_FASO]),
    ("South Africa", 3, [SOUTH_AFRICA]),
    ("Costa Rica", 4, [COSTA_RICA]),
    ("Chile", 4, [CHILE, CHILE_FUEGO]),
    ("Uruguay", 4, [URUGUAY]),
    ("Portugal", 4, [PORTUGAL]),
    ("United Kingdom", 4, [UK_GREAT_BRITAIN, UK_N_IRELAND]),
    ("Denmark", 4, [DENMARK_JUTLAND, DENMARK_ZEALAND]),
    ("Austria", 4, [AUSTRIA]),
    ("Italy", 4, [ITALY, SICILY, SARDINIA]),
    ("Greece", 4, [GREECE, CRETE]),
    ("Cyprus", 4, [CYPRUS]),
    ("Israel", 4, [ISRAEL]),
    ("Saudi Arabia", 4, [SAUDI_ARABIA]),
    ("Tanzania", 4, [TANZANIA]),
    ("Zambia", 4, [ZAMBIA]),
    ("Mozambique", 4, [MOZAMBIQUE]),
    ("Guinea-Bissau", 4, [GUINEA_BISSAU]),
    ("South Korea", 4, [SOUTH_KOREA]),
    ("Malaysia", 4, [MALAYSIA_WEST, MALAYSIA_EAST]),
    ("France", 5, [FRANCE, CORSICA, FRENCH_GUIANA]),
    ("Argentina", 5, [ARGENTINA, ARGENTINA_FUEGO]),
    ("Bahamas", 5, [BAHAMAS_ANDROS, BAHAMAS_GRAND, BAHAMAS_ABACO]),
    ("Philippines", 5, [MINDANAO, SAMAR_LEYTE, NEGROS, PANAY, MINDORO, PALAWAN, LUZON]),
    ("Sweden", 6, [SWEDEN]),
    ("Lebanon", 6, [LEBANON]),
]
# no data areas that sit inside a drawn country
NO_DATA = [LESOTHO, ESWATINI]


def draw_outline(ax, flat_coords, color):
    pts = np.array(flat_coords, dtype=float).reshape(-1, 2)
    ax.fill(pts[:, 0], pts[:, 1], facecolor=color, edgecolor=(1, 1, 1, 0.55), linewidth=0.2)


fig = plt.figure(figsize=(19.2, 10.8), dpi=100)
ax = fig.add_axes([0, 0, 1, 1])

for name, bin_idx, outlines in COUNTRIES:
    for outline in outlines:
        draw_outline(ax, outline, BIN_COLORS[bin_idx])
for outline in NO_DATA:
    draw_outline(ax, outline, "white")

# plate carree, same scale on both axes
ax.set_xlim(-201.85, 201.85)
ax.set_ylim(-106.55, 120.5)
ax.axis("off")

fig.text(0.5, 0.8881, TITLE, ha="center", va="center", fontsize=26.3)
fig.text(38 / 1920, 1 - 1054 / 1080, FOOTER, ha="left", va="center", fontsize=11.68)

handles = [Line2D([], [], linestyle="none", marker="o", markersize=12, color=c,
                  markeredgewidth=0) for c in BIN_COLORS]
ax.legend(handles, BIN_LABELS, loc="upper right", bbox_to_anchor=(1894 / 1920, 1 - 163 / 1080),
          bbox_transform=fig.transFigure, borderaxespad=0, fontsize=12, frameon=True,
          framealpha=0.8, edgecolor="#d0d0d0", handlelength=2.2, handletextpad=0.7,
          labelspacing=0.5, borderpad=0.4)

fig.savefig("out.png", dpi=100)
